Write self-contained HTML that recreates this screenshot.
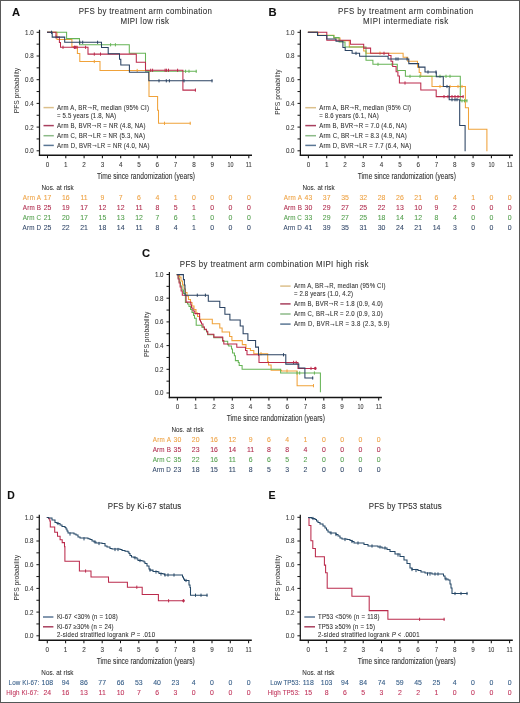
<!DOCTYPE html>
<html><head><meta charset="utf-8"><title>PFS figure</title>
<style>
html,body{margin:0;padding:0;background:#fff;}
body{width:520px;height:703px;overflow:hidden;font-family:"Liberation Sans", sans-serif;}
svg{display:block;will-change:transform;}
text{font-family:"Liberation Sans", sans-serif;}
</style></head><body>
<svg width="520" height="703" viewBox="0 0 520 703" font-family='"Liberation Sans", sans-serif'>
<rect x="0" y="0" width="520" height="703" fill="#ffffff"/>
<text x="12.1" y="16.4" font-size="11.2" fill="#111" stroke="#111" stroke-width="0.08" font-weight="bold">A</text>
<text x="268.6" y="16.4" font-size="11.2" fill="#111" stroke="#111" stroke-width="0.08" font-weight="bold">B</text>
<text x="141.9" y="256.6" font-size="11.2" fill="#111" stroke="#111" stroke-width="0.08" font-weight="bold">C</text>
<text x="7.2" y="498.8" font-size="10.4" fill="#111" stroke="#111" stroke-width="0.08" font-weight="bold">D</text>
<text x="268.6" y="498.6" font-size="10.6" fill="#111" stroke="#111" stroke-width="0.08" font-weight="bold">E</text>
<text transform="translate(78.7 13.8) scale(0.9 1)" font-size="8.8" fill="#303030" stroke="#303030" stroke-width="0.08" textLength="148.11" lengthAdjust="spacing">PFS by treatment arm combination</text>
<text transform="translate(120.4 24) scale(0.9 1)" font-size="8.8" fill="#303030" stroke="#303030" stroke-width="0.08" textLength="53.89" lengthAdjust="spacing">MIPI low risk</text>
<text transform="translate(338 13.8) scale(0.9 1)" font-size="8.8" fill="#303030" stroke="#303030" stroke-width="0.08" textLength="150.22" lengthAdjust="spacing">PFS by treatment arm combination</text>
<text transform="translate(363.1 24) scale(0.9 1)" font-size="8.8" fill="#303030" stroke="#303030" stroke-width="0.08" textLength="94.56" lengthAdjust="spacing">MIPI intermediate risk</text>
<text transform="translate(179.8 266.7) scale(0.9 1)" font-size="8.8" fill="#303030" stroke="#303030" stroke-width="0.08" textLength="209.67" lengthAdjust="spacing">PFS by treatment arm combination MIPI high risk</text>
<text transform="translate(107.8 509.4) scale(0.9 1)" font-size="8.8" fill="#303030" stroke="#303030" stroke-width="0.08" textLength="81.67" lengthAdjust="spacing">PFS by Ki-67 status</text>
<text transform="translate(368.7 509.4) scale(0.9 1)" font-size="8.8" fill="#303030" stroke="#303030" stroke-width="0.08" textLength="81.11" lengthAdjust="spacing">PFS by TP53 status</text>
<line x1="39.5" y1="29.8" x2="39.5" y2="156" stroke="#151515" stroke-width="1.25"/>
<line x1="38.9" y1="155.3" x2="252" y2="155.3" stroke="#151515" stroke-width="1.4"/>
<line x1="36.6" y1="150.8" x2="39.5" y2="150.8" stroke="#151515" stroke-width="1"/>
<text transform="translate(33.6 153.25) scale(0.9 1)" font-size="6.9" fill="#3a3a3a" stroke="#3a3a3a" stroke-width="0.08" text-anchor="end" textLength="9.56" lengthAdjust="spacing">0.0</text>
<line x1="36.6" y1="138.95" x2="39.5" y2="138.95" stroke="#151515" stroke-width="1"/>
<line x1="36.6" y1="127.1" x2="39.5" y2="127.1" stroke="#151515" stroke-width="1"/>
<text transform="translate(33.6 129.55) scale(0.9 1)" font-size="6.9" fill="#3a3a3a" stroke="#3a3a3a" stroke-width="0.08" text-anchor="end" textLength="9.56" lengthAdjust="spacing">0.2</text>
<line x1="36.6" y1="115.25" x2="39.5" y2="115.25" stroke="#151515" stroke-width="1"/>
<line x1="36.6" y1="103.4" x2="39.5" y2="103.4" stroke="#151515" stroke-width="1"/>
<text transform="translate(33.6 105.85) scale(0.9 1)" font-size="6.9" fill="#3a3a3a" stroke="#3a3a3a" stroke-width="0.08" text-anchor="end" textLength="9.56" lengthAdjust="spacing">0.4</text>
<line x1="36.6" y1="91.55" x2="39.5" y2="91.55" stroke="#151515" stroke-width="1"/>
<line x1="36.6" y1="79.7" x2="39.5" y2="79.7" stroke="#151515" stroke-width="1"/>
<text transform="translate(33.6 82.15) scale(0.9 1)" font-size="6.9" fill="#3a3a3a" stroke="#3a3a3a" stroke-width="0.08" text-anchor="end" textLength="9.56" lengthAdjust="spacing">0.6</text>
<line x1="36.6" y1="67.85" x2="39.5" y2="67.85" stroke="#151515" stroke-width="1"/>
<line x1="36.6" y1="56" x2="39.5" y2="56" stroke="#151515" stroke-width="1"/>
<text transform="translate(33.6 58.45) scale(0.9 1)" font-size="6.9" fill="#3a3a3a" stroke="#3a3a3a" stroke-width="0.08" text-anchor="end" textLength="9.56" lengthAdjust="spacing">0.8</text>
<line x1="36.6" y1="44.15" x2="39.5" y2="44.15" stroke="#151515" stroke-width="1"/>
<line x1="36.6" y1="32.3" x2="39.5" y2="32.3" stroke="#151515" stroke-width="1"/>
<text transform="translate(33.6 34.75) scale(0.9 1)" font-size="6.9" fill="#3a3a3a" stroke="#3a3a3a" stroke-width="0.08" text-anchor="end" textLength="9.56" lengthAdjust="spacing">1.0</text>
<line x1="47.5" y1="155.3" x2="47.5" y2="158.2" stroke="#151515" stroke-width="1.05"/>
<text x="47.5" y="166.8" font-size="6.3" fill="#3a3a3a" stroke="#3a3a3a" stroke-width="0.08" text-anchor="middle">0</text>
<line x1="65.8" y1="155.3" x2="65.8" y2="158.2" stroke="#151515" stroke-width="1.05"/>
<text x="65.8" y="166.8" font-size="6.3" fill="#3a3a3a" stroke="#3a3a3a" stroke-width="0.08" text-anchor="middle">1</text>
<line x1="84.1" y1="155.3" x2="84.1" y2="158.2" stroke="#151515" stroke-width="1.05"/>
<text x="84.1" y="166.8" font-size="6.3" fill="#3a3a3a" stroke="#3a3a3a" stroke-width="0.08" text-anchor="middle">2</text>
<line x1="102.4" y1="155.3" x2="102.4" y2="158.2" stroke="#151515" stroke-width="1.05"/>
<text x="102.4" y="166.8" font-size="6.3" fill="#3a3a3a" stroke="#3a3a3a" stroke-width="0.08" text-anchor="middle">3</text>
<line x1="120.7" y1="155.3" x2="120.7" y2="158.2" stroke="#151515" stroke-width="1.05"/>
<text x="120.7" y="166.8" font-size="6.3" fill="#3a3a3a" stroke="#3a3a3a" stroke-width="0.08" text-anchor="middle">4</text>
<line x1="139" y1="155.3" x2="139" y2="158.2" stroke="#151515" stroke-width="1.05"/>
<text x="139" y="166.8" font-size="6.3" fill="#3a3a3a" stroke="#3a3a3a" stroke-width="0.08" text-anchor="middle">5</text>
<line x1="157.3" y1="155.3" x2="157.3" y2="158.2" stroke="#151515" stroke-width="1.05"/>
<text x="157.3" y="166.8" font-size="6.3" fill="#3a3a3a" stroke="#3a3a3a" stroke-width="0.08" text-anchor="middle">6</text>
<line x1="175.6" y1="155.3" x2="175.6" y2="158.2" stroke="#151515" stroke-width="1.05"/>
<text x="175.6" y="166.8" font-size="6.3" fill="#3a3a3a" stroke="#3a3a3a" stroke-width="0.08" text-anchor="middle">7</text>
<line x1="193.9" y1="155.3" x2="193.9" y2="158.2" stroke="#151515" stroke-width="1.05"/>
<text x="193.9" y="166.8" font-size="6.3" fill="#3a3a3a" stroke="#3a3a3a" stroke-width="0.08" text-anchor="middle">8</text>
<line x1="212.2" y1="155.3" x2="212.2" y2="158.2" stroke="#151515" stroke-width="1.05"/>
<text x="212.2" y="166.8" font-size="6.3" fill="#3a3a3a" stroke="#3a3a3a" stroke-width="0.08" text-anchor="middle">9</text>
<line x1="230.5" y1="155.3" x2="230.5" y2="158.2" stroke="#151515" stroke-width="1.05"/>
<text x="230.5" y="166.8" font-size="6.3" fill="#3a3a3a" stroke="#3a3a3a" stroke-width="0.08" text-anchor="middle" textLength="6" lengthAdjust="spacingAndGlyphs">10</text>
<line x1="248.8" y1="155.3" x2="248.8" y2="158.2" stroke="#151515" stroke-width="1.05"/>
<text x="248.8" y="166.8" font-size="6.3" fill="#3a3a3a" stroke="#3a3a3a" stroke-width="0.08" text-anchor="middle" textLength="6" lengthAdjust="spacingAndGlyphs">11</text>
<text transform="translate(19.2 113.3) rotate(-90)" font-size="8.1" fill="#303030" textLength="45.4" lengthAdjust="spacingAndGlyphs" x="0" y="0">PFS probability</text>
<text x="96.9" y="178.8" font-size="9" fill="#303030" stroke="#303030" stroke-width="0.08" textLength="98.1" lengthAdjust="spacingAndGlyphs">Time since randomization (years)</text>
<line x1="300.4" y1="29.8" x2="300.4" y2="156" stroke="#151515" stroke-width="1.25"/>
<line x1="299.8" y1="155.3" x2="512.9" y2="155.3" stroke="#151515" stroke-width="1.4"/>
<line x1="297.5" y1="150.8" x2="300.4" y2="150.8" stroke="#151515" stroke-width="1"/>
<text transform="translate(294.5 153.25) scale(0.9 1)" font-size="6.9" fill="#3a3a3a" stroke="#3a3a3a" stroke-width="0.08" text-anchor="end" textLength="9.56" lengthAdjust="spacing">0.0</text>
<line x1="297.5" y1="138.95" x2="300.4" y2="138.95" stroke="#151515" stroke-width="1"/>
<line x1="297.5" y1="127.1" x2="300.4" y2="127.1" stroke="#151515" stroke-width="1"/>
<text transform="translate(294.5 129.55) scale(0.9 1)" font-size="6.9" fill="#3a3a3a" stroke="#3a3a3a" stroke-width="0.08" text-anchor="end" textLength="9.56" lengthAdjust="spacing">0.2</text>
<line x1="297.5" y1="115.25" x2="300.4" y2="115.25" stroke="#151515" stroke-width="1"/>
<line x1="297.5" y1="103.4" x2="300.4" y2="103.4" stroke="#151515" stroke-width="1"/>
<text transform="translate(294.5 105.85) scale(0.9 1)" font-size="6.9" fill="#3a3a3a" stroke="#3a3a3a" stroke-width="0.08" text-anchor="end" textLength="9.56" lengthAdjust="spacing">0.4</text>
<line x1="297.5" y1="91.55" x2="300.4" y2="91.55" stroke="#151515" stroke-width="1"/>
<line x1="297.5" y1="79.7" x2="300.4" y2="79.7" stroke="#151515" stroke-width="1"/>
<text transform="translate(294.5 82.15) scale(0.9 1)" font-size="6.9" fill="#3a3a3a" stroke="#3a3a3a" stroke-width="0.08" text-anchor="end" textLength="9.56" lengthAdjust="spacing">0.6</text>
<line x1="297.5" y1="67.85" x2="300.4" y2="67.85" stroke="#151515" stroke-width="1"/>
<line x1="297.5" y1="56" x2="300.4" y2="56" stroke="#151515" stroke-width="1"/>
<text transform="translate(294.5 58.45) scale(0.9 1)" font-size="6.9" fill="#3a3a3a" stroke="#3a3a3a" stroke-width="0.08" text-anchor="end" textLength="9.56" lengthAdjust="spacing">0.8</text>
<line x1="297.5" y1="44.15" x2="300.4" y2="44.15" stroke="#151515" stroke-width="1"/>
<line x1="297.5" y1="32.3" x2="300.4" y2="32.3" stroke="#151515" stroke-width="1"/>
<text transform="translate(294.5 34.75) scale(0.9 1)" font-size="6.9" fill="#3a3a3a" stroke="#3a3a3a" stroke-width="0.08" text-anchor="end" textLength="9.56" lengthAdjust="spacing">1.0</text>
<line x1="308.4" y1="155.3" x2="308.4" y2="158.2" stroke="#151515" stroke-width="1.05"/>
<text x="308.4" y="166.8" font-size="6.3" fill="#3a3a3a" stroke="#3a3a3a" stroke-width="0.08" text-anchor="middle">0</text>
<line x1="326.7" y1="155.3" x2="326.7" y2="158.2" stroke="#151515" stroke-width="1.05"/>
<text x="326.7" y="166.8" font-size="6.3" fill="#3a3a3a" stroke="#3a3a3a" stroke-width="0.08" text-anchor="middle">1</text>
<line x1="345" y1="155.3" x2="345" y2="158.2" stroke="#151515" stroke-width="1.05"/>
<text x="345" y="166.8" font-size="6.3" fill="#3a3a3a" stroke="#3a3a3a" stroke-width="0.08" text-anchor="middle">2</text>
<line x1="363.3" y1="155.3" x2="363.3" y2="158.2" stroke="#151515" stroke-width="1.05"/>
<text x="363.3" y="166.8" font-size="6.3" fill="#3a3a3a" stroke="#3a3a3a" stroke-width="0.08" text-anchor="middle">3</text>
<line x1="381.6" y1="155.3" x2="381.6" y2="158.2" stroke="#151515" stroke-width="1.05"/>
<text x="381.6" y="166.8" font-size="6.3" fill="#3a3a3a" stroke="#3a3a3a" stroke-width="0.08" text-anchor="middle">4</text>
<line x1="399.9" y1="155.3" x2="399.9" y2="158.2" stroke="#151515" stroke-width="1.05"/>
<text x="399.9" y="166.8" font-size="6.3" fill="#3a3a3a" stroke="#3a3a3a" stroke-width="0.08" text-anchor="middle">5</text>
<line x1="418.2" y1="155.3" x2="418.2" y2="158.2" stroke="#151515" stroke-width="1.05"/>
<text x="418.2" y="166.8" font-size="6.3" fill="#3a3a3a" stroke="#3a3a3a" stroke-width="0.08" text-anchor="middle">6</text>
<line x1="436.5" y1="155.3" x2="436.5" y2="158.2" stroke="#151515" stroke-width="1.05"/>
<text x="436.5" y="166.8" font-size="6.3" fill="#3a3a3a" stroke="#3a3a3a" stroke-width="0.08" text-anchor="middle">7</text>
<line x1="454.8" y1="155.3" x2="454.8" y2="158.2" stroke="#151515" stroke-width="1.05"/>
<text x="454.8" y="166.8" font-size="6.3" fill="#3a3a3a" stroke="#3a3a3a" stroke-width="0.08" text-anchor="middle">8</text>
<line x1="473.1" y1="155.3" x2="473.1" y2="158.2" stroke="#151515" stroke-width="1.05"/>
<text x="473.1" y="166.8" font-size="6.3" fill="#3a3a3a" stroke="#3a3a3a" stroke-width="0.08" text-anchor="middle">9</text>
<line x1="491.4" y1="155.3" x2="491.4" y2="158.2" stroke="#151515" stroke-width="1.05"/>
<text x="491.4" y="166.8" font-size="6.3" fill="#3a3a3a" stroke="#3a3a3a" stroke-width="0.08" text-anchor="middle" textLength="6" lengthAdjust="spacingAndGlyphs">10</text>
<line x1="509.7" y1="155.3" x2="509.7" y2="158.2" stroke="#151515" stroke-width="1.05"/>
<text x="509.7" y="166.8" font-size="6.3" fill="#3a3a3a" stroke="#3a3a3a" stroke-width="0.08" text-anchor="middle" textLength="6" lengthAdjust="spacingAndGlyphs">11</text>
<text transform="translate(280.1 114.7) rotate(-90)" font-size="8.1" fill="#303030" textLength="45.4" lengthAdjust="spacingAndGlyphs" x="0" y="0">PFS probability</text>
<text x="357.8" y="178.8" font-size="9" fill="#303030" stroke="#303030" stroke-width="0.08" textLength="98.1" lengthAdjust="spacingAndGlyphs">Time since randomization (years)</text>
<line x1="169.4" y1="272" x2="169.4" y2="398.2" stroke="#151515" stroke-width="1.25"/>
<line x1="168.8" y1="397.5" x2="381.9" y2="397.5" stroke="#151515" stroke-width="1.4"/>
<line x1="166.5" y1="393" x2="169.4" y2="393" stroke="#151515" stroke-width="1"/>
<text transform="translate(163.5 395.45) scale(0.9 1)" font-size="6.9" fill="#3a3a3a" stroke="#3a3a3a" stroke-width="0.08" text-anchor="end" textLength="9.56" lengthAdjust="spacing">0.0</text>
<line x1="166.5" y1="381.15" x2="169.4" y2="381.15" stroke="#151515" stroke-width="1"/>
<line x1="166.5" y1="369.3" x2="169.4" y2="369.3" stroke="#151515" stroke-width="1"/>
<text transform="translate(163.5 371.75) scale(0.9 1)" font-size="6.9" fill="#3a3a3a" stroke="#3a3a3a" stroke-width="0.08" text-anchor="end" textLength="9.56" lengthAdjust="spacing">0.2</text>
<line x1="166.5" y1="357.45" x2="169.4" y2="357.45" stroke="#151515" stroke-width="1"/>
<line x1="166.5" y1="345.6" x2="169.4" y2="345.6" stroke="#151515" stroke-width="1"/>
<text transform="translate(163.5 348.05) scale(0.9 1)" font-size="6.9" fill="#3a3a3a" stroke="#3a3a3a" stroke-width="0.08" text-anchor="end" textLength="9.56" lengthAdjust="spacing">0.4</text>
<line x1="166.5" y1="333.75" x2="169.4" y2="333.75" stroke="#151515" stroke-width="1"/>
<line x1="166.5" y1="321.9" x2="169.4" y2="321.9" stroke="#151515" stroke-width="1"/>
<text transform="translate(163.5 324.35) scale(0.9 1)" font-size="6.9" fill="#3a3a3a" stroke="#3a3a3a" stroke-width="0.08" text-anchor="end" textLength="9.56" lengthAdjust="spacing">0.6</text>
<line x1="166.5" y1="310.05" x2="169.4" y2="310.05" stroke="#151515" stroke-width="1"/>
<line x1="166.5" y1="298.2" x2="169.4" y2="298.2" stroke="#151515" stroke-width="1"/>
<text transform="translate(163.5 300.65) scale(0.9 1)" font-size="6.9" fill="#3a3a3a" stroke="#3a3a3a" stroke-width="0.08" text-anchor="end" textLength="9.56" lengthAdjust="spacing">0.8</text>
<line x1="166.5" y1="286.35" x2="169.4" y2="286.35" stroke="#151515" stroke-width="1"/>
<line x1="166.5" y1="274.5" x2="169.4" y2="274.5" stroke="#151515" stroke-width="1"/>
<text transform="translate(163.5 276.95) scale(0.9 1)" font-size="6.9" fill="#3a3a3a" stroke="#3a3a3a" stroke-width="0.08" text-anchor="end" textLength="9.56" lengthAdjust="spacing">1.0</text>
<line x1="177.4" y1="397.5" x2="177.4" y2="400.4" stroke="#151515" stroke-width="1.05"/>
<text x="177.4" y="409" font-size="6.3" fill="#3a3a3a" stroke="#3a3a3a" stroke-width="0.08" text-anchor="middle">0</text>
<line x1="195.7" y1="397.5" x2="195.7" y2="400.4" stroke="#151515" stroke-width="1.05"/>
<text x="195.7" y="409" font-size="6.3" fill="#3a3a3a" stroke="#3a3a3a" stroke-width="0.08" text-anchor="middle">1</text>
<line x1="214" y1="397.5" x2="214" y2="400.4" stroke="#151515" stroke-width="1.05"/>
<text x="214" y="409" font-size="6.3" fill="#3a3a3a" stroke="#3a3a3a" stroke-width="0.08" text-anchor="middle">2</text>
<line x1="232.3" y1="397.5" x2="232.3" y2="400.4" stroke="#151515" stroke-width="1.05"/>
<text x="232.3" y="409" font-size="6.3" fill="#3a3a3a" stroke="#3a3a3a" stroke-width="0.08" text-anchor="middle">3</text>
<line x1="250.6" y1="397.5" x2="250.6" y2="400.4" stroke="#151515" stroke-width="1.05"/>
<text x="250.6" y="409" font-size="6.3" fill="#3a3a3a" stroke="#3a3a3a" stroke-width="0.08" text-anchor="middle">4</text>
<line x1="268.9" y1="397.5" x2="268.9" y2="400.4" stroke="#151515" stroke-width="1.05"/>
<text x="268.9" y="409" font-size="6.3" fill="#3a3a3a" stroke="#3a3a3a" stroke-width="0.08" text-anchor="middle">5</text>
<line x1="287.2" y1="397.5" x2="287.2" y2="400.4" stroke="#151515" stroke-width="1.05"/>
<text x="287.2" y="409" font-size="6.3" fill="#3a3a3a" stroke="#3a3a3a" stroke-width="0.08" text-anchor="middle">6</text>
<line x1="305.5" y1="397.5" x2="305.5" y2="400.4" stroke="#151515" stroke-width="1.05"/>
<text x="305.5" y="409" font-size="6.3" fill="#3a3a3a" stroke="#3a3a3a" stroke-width="0.08" text-anchor="middle">7</text>
<line x1="323.8" y1="397.5" x2="323.8" y2="400.4" stroke="#151515" stroke-width="1.05"/>
<text x="323.8" y="409" font-size="6.3" fill="#3a3a3a" stroke="#3a3a3a" stroke-width="0.08" text-anchor="middle">8</text>
<line x1="342.1" y1="397.5" x2="342.1" y2="400.4" stroke="#151515" stroke-width="1.05"/>
<text x="342.1" y="409" font-size="6.3" fill="#3a3a3a" stroke="#3a3a3a" stroke-width="0.08" text-anchor="middle">9</text>
<line x1="360.4" y1="397.5" x2="360.4" y2="400.4" stroke="#151515" stroke-width="1.05"/>
<text x="360.4" y="409" font-size="6.3" fill="#3a3a3a" stroke="#3a3a3a" stroke-width="0.08" text-anchor="middle" textLength="6" lengthAdjust="spacingAndGlyphs">10</text>
<line x1="378.7" y1="397.5" x2="378.7" y2="400.4" stroke="#151515" stroke-width="1.05"/>
<text x="378.7" y="409" font-size="6.3" fill="#3a3a3a" stroke="#3a3a3a" stroke-width="0.08" text-anchor="middle" textLength="6" lengthAdjust="spacingAndGlyphs">11</text>
<text transform="translate(148.7 357.1) rotate(-90)" font-size="8.1" fill="#303030" textLength="45.4" lengthAdjust="spacingAndGlyphs" x="0" y="0">PFS probability</text>
<text x="226.8" y="421" font-size="9" fill="#303030" stroke="#303030" stroke-width="0.08" textLength="98.1" lengthAdjust="spacingAndGlyphs">Time since randomization (years)</text>
<line x1="39.3" y1="514.8" x2="39.3" y2="641" stroke="#151515" stroke-width="1.25"/>
<line x1="38.7" y1="640.3" x2="251.8" y2="640.3" stroke="#151515" stroke-width="1.4"/>
<line x1="36.4" y1="635.8" x2="39.3" y2="635.8" stroke="#151515" stroke-width="1"/>
<text transform="translate(33.4 638.25) scale(0.9 1)" font-size="6.9" fill="#3a3a3a" stroke="#3a3a3a" stroke-width="0.08" text-anchor="end" textLength="9.56" lengthAdjust="spacing">0.0</text>
<line x1="36.4" y1="623.95" x2="39.3" y2="623.95" stroke="#151515" stroke-width="1"/>
<line x1="36.4" y1="612.1" x2="39.3" y2="612.1" stroke="#151515" stroke-width="1"/>
<text transform="translate(33.4 614.55) scale(0.9 1)" font-size="6.9" fill="#3a3a3a" stroke="#3a3a3a" stroke-width="0.08" text-anchor="end" textLength="9.56" lengthAdjust="spacing">0.2</text>
<line x1="36.4" y1="600.25" x2="39.3" y2="600.25" stroke="#151515" stroke-width="1"/>
<line x1="36.4" y1="588.4" x2="39.3" y2="588.4" stroke="#151515" stroke-width="1"/>
<text transform="translate(33.4 590.85) scale(0.9 1)" font-size="6.9" fill="#3a3a3a" stroke="#3a3a3a" stroke-width="0.08" text-anchor="end" textLength="9.56" lengthAdjust="spacing">0.4</text>
<line x1="36.4" y1="576.55" x2="39.3" y2="576.55" stroke="#151515" stroke-width="1"/>
<line x1="36.4" y1="564.7" x2="39.3" y2="564.7" stroke="#151515" stroke-width="1"/>
<text transform="translate(33.4 567.15) scale(0.9 1)" font-size="6.9" fill="#3a3a3a" stroke="#3a3a3a" stroke-width="0.08" text-anchor="end" textLength="9.56" lengthAdjust="spacing">0.6</text>
<line x1="36.4" y1="552.85" x2="39.3" y2="552.85" stroke="#151515" stroke-width="1"/>
<line x1="36.4" y1="541" x2="39.3" y2="541" stroke="#151515" stroke-width="1"/>
<text transform="translate(33.4 543.45) scale(0.9 1)" font-size="6.9" fill="#3a3a3a" stroke="#3a3a3a" stroke-width="0.08" text-anchor="end" textLength="9.56" lengthAdjust="spacing">0.8</text>
<line x1="36.4" y1="529.15" x2="39.3" y2="529.15" stroke="#151515" stroke-width="1"/>
<line x1="36.4" y1="517.3" x2="39.3" y2="517.3" stroke="#151515" stroke-width="1"/>
<text transform="translate(33.4 519.75) scale(0.9 1)" font-size="6.9" fill="#3a3a3a" stroke="#3a3a3a" stroke-width="0.08" text-anchor="end" textLength="9.56" lengthAdjust="spacing">1.0</text>
<line x1="47.3" y1="640.3" x2="47.3" y2="643.2" stroke="#151515" stroke-width="1.05"/>
<text x="47.3" y="651.8" font-size="6.3" fill="#3a3a3a" stroke="#3a3a3a" stroke-width="0.08" text-anchor="middle">0</text>
<line x1="65.6" y1="640.3" x2="65.6" y2="643.2" stroke="#151515" stroke-width="1.05"/>
<text x="65.6" y="651.8" font-size="6.3" fill="#3a3a3a" stroke="#3a3a3a" stroke-width="0.08" text-anchor="middle">1</text>
<line x1="83.9" y1="640.3" x2="83.9" y2="643.2" stroke="#151515" stroke-width="1.05"/>
<text x="83.9" y="651.8" font-size="6.3" fill="#3a3a3a" stroke="#3a3a3a" stroke-width="0.08" text-anchor="middle">2</text>
<line x1="102.2" y1="640.3" x2="102.2" y2="643.2" stroke="#151515" stroke-width="1.05"/>
<text x="102.2" y="651.8" font-size="6.3" fill="#3a3a3a" stroke="#3a3a3a" stroke-width="0.08" text-anchor="middle">3</text>
<line x1="120.5" y1="640.3" x2="120.5" y2="643.2" stroke="#151515" stroke-width="1.05"/>
<text x="120.5" y="651.8" font-size="6.3" fill="#3a3a3a" stroke="#3a3a3a" stroke-width="0.08" text-anchor="middle">4</text>
<line x1="138.8" y1="640.3" x2="138.8" y2="643.2" stroke="#151515" stroke-width="1.05"/>
<text x="138.8" y="651.8" font-size="6.3" fill="#3a3a3a" stroke="#3a3a3a" stroke-width="0.08" text-anchor="middle">5</text>
<line x1="157.1" y1="640.3" x2="157.1" y2="643.2" stroke="#151515" stroke-width="1.05"/>
<text x="157.1" y="651.8" font-size="6.3" fill="#3a3a3a" stroke="#3a3a3a" stroke-width="0.08" text-anchor="middle">6</text>
<line x1="175.4" y1="640.3" x2="175.4" y2="643.2" stroke="#151515" stroke-width="1.05"/>
<text x="175.4" y="651.8" font-size="6.3" fill="#3a3a3a" stroke="#3a3a3a" stroke-width="0.08" text-anchor="middle">7</text>
<line x1="193.7" y1="640.3" x2="193.7" y2="643.2" stroke="#151515" stroke-width="1.05"/>
<text x="193.7" y="651.8" font-size="6.3" fill="#3a3a3a" stroke="#3a3a3a" stroke-width="0.08" text-anchor="middle">8</text>
<line x1="212" y1="640.3" x2="212" y2="643.2" stroke="#151515" stroke-width="1.05"/>
<text x="212" y="651.8" font-size="6.3" fill="#3a3a3a" stroke="#3a3a3a" stroke-width="0.08" text-anchor="middle">9</text>
<line x1="230.3" y1="640.3" x2="230.3" y2="643.2" stroke="#151515" stroke-width="1.05"/>
<text x="230.3" y="651.8" font-size="6.3" fill="#3a3a3a" stroke="#3a3a3a" stroke-width="0.08" text-anchor="middle" textLength="6" lengthAdjust="spacingAndGlyphs">10</text>
<line x1="248.6" y1="640.3" x2="248.6" y2="643.2" stroke="#151515" stroke-width="1.05"/>
<text x="248.6" y="651.8" font-size="6.3" fill="#3a3a3a" stroke="#3a3a3a" stroke-width="0.08" text-anchor="middle" textLength="6" lengthAdjust="spacingAndGlyphs">11</text>
<text transform="translate(19 600.4) rotate(-90)" font-size="8.1" fill="#303030" textLength="45.4" lengthAdjust="spacingAndGlyphs" x="0" y="0">PFS probability</text>
<text x="96.7" y="663.8" font-size="9" fill="#303030" stroke="#303030" stroke-width="0.08" textLength="98.1" lengthAdjust="spacingAndGlyphs">Time since randomization (years)</text>
<line x1="300.3" y1="514.8" x2="300.3" y2="641" stroke="#151515" stroke-width="1.25"/>
<line x1="299.7" y1="640.3" x2="512.8" y2="640.3" stroke="#151515" stroke-width="1.4"/>
<line x1="297.4" y1="635.8" x2="300.3" y2="635.8" stroke="#151515" stroke-width="1"/>
<text transform="translate(294.4 638.25) scale(0.9 1)" font-size="6.9" fill="#3a3a3a" stroke="#3a3a3a" stroke-width="0.08" text-anchor="end" textLength="9.56" lengthAdjust="spacing">0.0</text>
<line x1="297.4" y1="623.95" x2="300.3" y2="623.95" stroke="#151515" stroke-width="1"/>
<line x1="297.4" y1="612.1" x2="300.3" y2="612.1" stroke="#151515" stroke-width="1"/>
<text transform="translate(294.4 614.55) scale(0.9 1)" font-size="6.9" fill="#3a3a3a" stroke="#3a3a3a" stroke-width="0.08" text-anchor="end" textLength="9.56" lengthAdjust="spacing">0.2</text>
<line x1="297.4" y1="600.25" x2="300.3" y2="600.25" stroke="#151515" stroke-width="1"/>
<line x1="297.4" y1="588.4" x2="300.3" y2="588.4" stroke="#151515" stroke-width="1"/>
<text transform="translate(294.4 590.85) scale(0.9 1)" font-size="6.9" fill="#3a3a3a" stroke="#3a3a3a" stroke-width="0.08" text-anchor="end" textLength="9.56" lengthAdjust="spacing">0.4</text>
<line x1="297.4" y1="576.55" x2="300.3" y2="576.55" stroke="#151515" stroke-width="1"/>
<line x1="297.4" y1="564.7" x2="300.3" y2="564.7" stroke="#151515" stroke-width="1"/>
<text transform="translate(294.4 567.15) scale(0.9 1)" font-size="6.9" fill="#3a3a3a" stroke="#3a3a3a" stroke-width="0.08" text-anchor="end" textLength="9.56" lengthAdjust="spacing">0.6</text>
<line x1="297.4" y1="552.85" x2="300.3" y2="552.85" stroke="#151515" stroke-width="1"/>
<line x1="297.4" y1="541" x2="300.3" y2="541" stroke="#151515" stroke-width="1"/>
<text transform="translate(294.4 543.45) scale(0.9 1)" font-size="6.9" fill="#3a3a3a" stroke="#3a3a3a" stroke-width="0.08" text-anchor="end" textLength="9.56" lengthAdjust="spacing">0.8</text>
<line x1="297.4" y1="529.15" x2="300.3" y2="529.15" stroke="#151515" stroke-width="1"/>
<line x1="297.4" y1="517.3" x2="300.3" y2="517.3" stroke="#151515" stroke-width="1"/>
<text transform="translate(294.4 519.75) scale(0.9 1)" font-size="6.9" fill="#3a3a3a" stroke="#3a3a3a" stroke-width="0.08" text-anchor="end" textLength="9.56" lengthAdjust="spacing">1.0</text>
<line x1="308.3" y1="640.3" x2="308.3" y2="643.2" stroke="#151515" stroke-width="1.05"/>
<text x="308.3" y="651.8" font-size="6.3" fill="#3a3a3a" stroke="#3a3a3a" stroke-width="0.08" text-anchor="middle">0</text>
<line x1="326.6" y1="640.3" x2="326.6" y2="643.2" stroke="#151515" stroke-width="1.05"/>
<text x="326.6" y="651.8" font-size="6.3" fill="#3a3a3a" stroke="#3a3a3a" stroke-width="0.08" text-anchor="middle">1</text>
<line x1="344.9" y1="640.3" x2="344.9" y2="643.2" stroke="#151515" stroke-width="1.05"/>
<text x="344.9" y="651.8" font-size="6.3" fill="#3a3a3a" stroke="#3a3a3a" stroke-width="0.08" text-anchor="middle">2</text>
<line x1="363.2" y1="640.3" x2="363.2" y2="643.2" stroke="#151515" stroke-width="1.05"/>
<text x="363.2" y="651.8" font-size="6.3" fill="#3a3a3a" stroke="#3a3a3a" stroke-width="0.08" text-anchor="middle">3</text>
<line x1="381.5" y1="640.3" x2="381.5" y2="643.2" stroke="#151515" stroke-width="1.05"/>
<text x="381.5" y="651.8" font-size="6.3" fill="#3a3a3a" stroke="#3a3a3a" stroke-width="0.08" text-anchor="middle">4</text>
<line x1="399.8" y1="640.3" x2="399.8" y2="643.2" stroke="#151515" stroke-width="1.05"/>
<text x="399.8" y="651.8" font-size="6.3" fill="#3a3a3a" stroke="#3a3a3a" stroke-width="0.08" text-anchor="middle">5</text>
<line x1="418.1" y1="640.3" x2="418.1" y2="643.2" stroke="#151515" stroke-width="1.05"/>
<text x="418.1" y="651.8" font-size="6.3" fill="#3a3a3a" stroke="#3a3a3a" stroke-width="0.08" text-anchor="middle">6</text>
<line x1="436.4" y1="640.3" x2="436.4" y2="643.2" stroke="#151515" stroke-width="1.05"/>
<text x="436.4" y="651.8" font-size="6.3" fill="#3a3a3a" stroke="#3a3a3a" stroke-width="0.08" text-anchor="middle">7</text>
<line x1="454.7" y1="640.3" x2="454.7" y2="643.2" stroke="#151515" stroke-width="1.05"/>
<text x="454.7" y="651.8" font-size="6.3" fill="#3a3a3a" stroke="#3a3a3a" stroke-width="0.08" text-anchor="middle">8</text>
<line x1="473" y1="640.3" x2="473" y2="643.2" stroke="#151515" stroke-width="1.05"/>
<text x="473" y="651.8" font-size="6.3" fill="#3a3a3a" stroke="#3a3a3a" stroke-width="0.08" text-anchor="middle">9</text>
<line x1="491.3" y1="640.3" x2="491.3" y2="643.2" stroke="#151515" stroke-width="1.05"/>
<text x="491.3" y="651.8" font-size="6.3" fill="#3a3a3a" stroke="#3a3a3a" stroke-width="0.08" text-anchor="middle" textLength="6" lengthAdjust="spacingAndGlyphs">10</text>
<line x1="509.6" y1="640.3" x2="509.6" y2="643.2" stroke="#151515" stroke-width="1.05"/>
<text x="509.6" y="651.8" font-size="6.3" fill="#3a3a3a" stroke="#3a3a3a" stroke-width="0.08" text-anchor="middle" textLength="6" lengthAdjust="spacingAndGlyphs">11</text>
<text transform="translate(280 600.4) rotate(-90)" font-size="8.1" fill="#303030" textLength="45.4" lengthAdjust="spacingAndGlyphs" x="0" y="0">PFS probability</text>
<text x="357.7" y="663.8" font-size="9" fill="#303030" stroke="#303030" stroke-width="0.08" textLength="98.1" lengthAdjust="spacingAndGlyphs">Time since randomization (years)</text>
<text transform="translate(41.5 189.6) scale(0.9 1)" font-size="7" fill="#303030" stroke="#303030" stroke-width="0.08" textLength="35.78" lengthAdjust="spacing">Nos. at risk</text>
<text transform="translate(41 199.9) scale(0.9 1)" font-size="7" fill="#eea243" stroke="#eea243" stroke-width="0.08" text-anchor="end" textLength="20.22" lengthAdjust="spacing">Arm A</text>
<text x="47.5" y="199.9" font-size="6.9" fill="#eea243" stroke="#eea243" stroke-width="0.08" text-anchor="middle">17</text>
<text x="65.8" y="199.9" font-size="6.9" fill="#eea243" stroke="#eea243" stroke-width="0.08" text-anchor="middle">16</text>
<text x="84.1" y="199.9" font-size="6.9" fill="#eea243" stroke="#eea243" stroke-width="0.08" text-anchor="middle">11</text>
<text x="102.4" y="199.9" font-size="6.9" fill="#eea243" stroke="#eea243" stroke-width="0.08" text-anchor="middle">9</text>
<text x="120.7" y="199.9" font-size="6.9" fill="#eea243" stroke="#eea243" stroke-width="0.08" text-anchor="middle">7</text>
<text x="139" y="199.9" font-size="6.9" fill="#eea243" stroke="#eea243" stroke-width="0.08" text-anchor="middle">6</text>
<text x="157.3" y="199.9" font-size="6.9" fill="#eea243" stroke="#eea243" stroke-width="0.08" text-anchor="middle">4</text>
<text x="175.6" y="199.9" font-size="6.9" fill="#eea243" stroke="#eea243" stroke-width="0.08" text-anchor="middle">1</text>
<text x="193.9" y="199.9" font-size="6.9" fill="#eea243" stroke="#eea243" stroke-width="0.08" text-anchor="middle">0</text>
<text x="212.2" y="199.9" font-size="6.9" fill="#eea243" stroke="#eea243" stroke-width="0.08" text-anchor="middle">0</text>
<text x="230.5" y="199.9" font-size="6.9" fill="#eea243" stroke="#eea243" stroke-width="0.08" text-anchor="middle">0</text>
<text x="248.8" y="199.9" font-size="6.9" fill="#eea243" stroke="#eea243" stroke-width="0.08" text-anchor="middle">0</text>
<text transform="translate(41 209.88) scale(0.9 1)" font-size="7" fill="#b02c4e" stroke="#b02c4e" stroke-width="0.08" text-anchor="end" textLength="20.22" lengthAdjust="spacing">Arm B</text>
<text x="47.5" y="209.88" font-size="6.9" fill="#b02c4e" stroke="#b02c4e" stroke-width="0.08" text-anchor="middle">25</text>
<text x="65.8" y="209.88" font-size="6.9" fill="#b02c4e" stroke="#b02c4e" stroke-width="0.08" text-anchor="middle">19</text>
<text x="84.1" y="209.88" font-size="6.9" fill="#b02c4e" stroke="#b02c4e" stroke-width="0.08" text-anchor="middle">17</text>
<text x="102.4" y="209.88" font-size="6.9" fill="#b02c4e" stroke="#b02c4e" stroke-width="0.08" text-anchor="middle">12</text>
<text x="120.7" y="209.88" font-size="6.9" fill="#b02c4e" stroke="#b02c4e" stroke-width="0.08" text-anchor="middle">12</text>
<text x="139" y="209.88" font-size="6.9" fill="#b02c4e" stroke="#b02c4e" stroke-width="0.08" text-anchor="middle">11</text>
<text x="157.3" y="209.88" font-size="6.9" fill="#b02c4e" stroke="#b02c4e" stroke-width="0.08" text-anchor="middle">8</text>
<text x="175.6" y="209.88" font-size="6.9" fill="#b02c4e" stroke="#b02c4e" stroke-width="0.08" text-anchor="middle">5</text>
<text x="193.9" y="209.88" font-size="6.9" fill="#b02c4e" stroke="#b02c4e" stroke-width="0.08" text-anchor="middle">1</text>
<text x="212.2" y="209.88" font-size="6.9" fill="#b02c4e" stroke="#b02c4e" stroke-width="0.08" text-anchor="middle">0</text>
<text x="230.5" y="209.88" font-size="6.9" fill="#b02c4e" stroke="#b02c4e" stroke-width="0.08" text-anchor="middle">0</text>
<text x="248.8" y="209.88" font-size="6.9" fill="#b02c4e" stroke="#b02c4e" stroke-width="0.08" text-anchor="middle">0</text>
<text transform="translate(41 219.86) scale(0.9 1)" font-size="7" fill="#55a04f" stroke="#55a04f" stroke-width="0.08" text-anchor="end" textLength="20.22" lengthAdjust="spacing">Arm C</text>
<text x="47.5" y="219.86" font-size="6.9" fill="#55a04f" stroke="#55a04f" stroke-width="0.08" text-anchor="middle">21</text>
<text x="65.8" y="219.86" font-size="6.9" fill="#55a04f" stroke="#55a04f" stroke-width="0.08" text-anchor="middle">20</text>
<text x="84.1" y="219.86" font-size="6.9" fill="#55a04f" stroke="#55a04f" stroke-width="0.08" text-anchor="middle">17</text>
<text x="102.4" y="219.86" font-size="6.9" fill="#55a04f" stroke="#55a04f" stroke-width="0.08" text-anchor="middle">15</text>
<text x="120.7" y="219.86" font-size="6.9" fill="#55a04f" stroke="#55a04f" stroke-width="0.08" text-anchor="middle">13</text>
<text x="139" y="219.86" font-size="6.9" fill="#55a04f" stroke="#55a04f" stroke-width="0.08" text-anchor="middle">12</text>
<text x="157.3" y="219.86" font-size="6.9" fill="#55a04f" stroke="#55a04f" stroke-width="0.08" text-anchor="middle">7</text>
<text x="175.6" y="219.86" font-size="6.9" fill="#55a04f" stroke="#55a04f" stroke-width="0.08" text-anchor="middle">6</text>
<text x="193.9" y="219.86" font-size="6.9" fill="#55a04f" stroke="#55a04f" stroke-width="0.08" text-anchor="middle">1</text>
<text x="212.2" y="219.86" font-size="6.9" fill="#55a04f" stroke="#55a04f" stroke-width="0.08" text-anchor="middle">0</text>
<text x="230.5" y="219.86" font-size="6.9" fill="#55a04f" stroke="#55a04f" stroke-width="0.08" text-anchor="middle">0</text>
<text x="248.8" y="219.86" font-size="6.9" fill="#55a04f" stroke="#55a04f" stroke-width="0.08" text-anchor="middle">0</text>
<text transform="translate(41 229.84) scale(0.9 1)" font-size="7" fill="#34496a" stroke="#34496a" stroke-width="0.08" text-anchor="end" textLength="20.44" lengthAdjust="spacing">Arm D</text>
<text x="47.5" y="229.84" font-size="6.9" fill="#34496a" stroke="#34496a" stroke-width="0.08" text-anchor="middle">25</text>
<text x="65.8" y="229.84" font-size="6.9" fill="#34496a" stroke="#34496a" stroke-width="0.08" text-anchor="middle">22</text>
<text x="84.1" y="229.84" font-size="6.9" fill="#34496a" stroke="#34496a" stroke-width="0.08" text-anchor="middle">21</text>
<text x="102.4" y="229.84" font-size="6.9" fill="#34496a" stroke="#34496a" stroke-width="0.08" text-anchor="middle">18</text>
<text x="120.7" y="229.84" font-size="6.9" fill="#34496a" stroke="#34496a" stroke-width="0.08" text-anchor="middle">14</text>
<text x="139" y="229.84" font-size="6.9" fill="#34496a" stroke="#34496a" stroke-width="0.08" text-anchor="middle">11</text>
<text x="157.3" y="229.84" font-size="6.9" fill="#34496a" stroke="#34496a" stroke-width="0.08" text-anchor="middle">8</text>
<text x="175.6" y="229.84" font-size="6.9" fill="#34496a" stroke="#34496a" stroke-width="0.08" text-anchor="middle">4</text>
<text x="193.9" y="229.84" font-size="6.9" fill="#34496a" stroke="#34496a" stroke-width="0.08" text-anchor="middle">1</text>
<text x="212.2" y="229.84" font-size="6.9" fill="#34496a" stroke="#34496a" stroke-width="0.08" text-anchor="middle">0</text>
<text x="230.5" y="229.84" font-size="6.9" fill="#34496a" stroke="#34496a" stroke-width="0.08" text-anchor="middle">0</text>
<text x="248.8" y="229.84" font-size="6.9" fill="#34496a" stroke="#34496a" stroke-width="0.08" text-anchor="middle">0</text>
<text transform="translate(302.4 189.6) scale(0.9 1)" font-size="7" fill="#303030" stroke="#303030" stroke-width="0.08" textLength="35.78" lengthAdjust="spacing">Nos. at risk</text>
<text transform="translate(301.9 199.9) scale(0.9 1)" font-size="7" fill="#eea243" stroke="#eea243" stroke-width="0.08" text-anchor="end" textLength="20.22" lengthAdjust="spacing">Arm A</text>
<text x="308.4" y="199.9" font-size="6.9" fill="#eea243" stroke="#eea243" stroke-width="0.08" text-anchor="middle">43</text>
<text x="326.7" y="199.9" font-size="6.9" fill="#eea243" stroke="#eea243" stroke-width="0.08" text-anchor="middle">37</text>
<text x="345" y="199.9" font-size="6.9" fill="#eea243" stroke="#eea243" stroke-width="0.08" text-anchor="middle">35</text>
<text x="363.3" y="199.9" font-size="6.9" fill="#eea243" stroke="#eea243" stroke-width="0.08" text-anchor="middle">32</text>
<text x="381.6" y="199.9" font-size="6.9" fill="#eea243" stroke="#eea243" stroke-width="0.08" text-anchor="middle">28</text>
<text x="399.9" y="199.9" font-size="6.9" fill="#eea243" stroke="#eea243" stroke-width="0.08" text-anchor="middle">26</text>
<text x="418.2" y="199.9" font-size="6.9" fill="#eea243" stroke="#eea243" stroke-width="0.08" text-anchor="middle">21</text>
<text x="436.5" y="199.9" font-size="6.9" fill="#eea243" stroke="#eea243" stroke-width="0.08" text-anchor="middle">6</text>
<text x="454.8" y="199.9" font-size="6.9" fill="#eea243" stroke="#eea243" stroke-width="0.08" text-anchor="middle">4</text>
<text x="473.1" y="199.9" font-size="6.9" fill="#eea243" stroke="#eea243" stroke-width="0.08" text-anchor="middle">1</text>
<text x="491.4" y="199.9" font-size="6.9" fill="#eea243" stroke="#eea243" stroke-width="0.08" text-anchor="middle">0</text>
<text x="509.7" y="199.9" font-size="6.9" fill="#eea243" stroke="#eea243" stroke-width="0.08" text-anchor="middle">0</text>
<text transform="translate(301.9 209.88) scale(0.9 1)" font-size="7" fill="#b02c4e" stroke="#b02c4e" stroke-width="0.08" text-anchor="end" textLength="20.22" lengthAdjust="spacing">Arm B</text>
<text x="308.4" y="209.88" font-size="6.9" fill="#b02c4e" stroke="#b02c4e" stroke-width="0.08" text-anchor="middle">30</text>
<text x="326.7" y="209.88" font-size="6.9" fill="#b02c4e" stroke="#b02c4e" stroke-width="0.08" text-anchor="middle">29</text>
<text x="345" y="209.88" font-size="6.9" fill="#b02c4e" stroke="#b02c4e" stroke-width="0.08" text-anchor="middle">27</text>
<text x="363.3" y="209.88" font-size="6.9" fill="#b02c4e" stroke="#b02c4e" stroke-width="0.08" text-anchor="middle">25</text>
<text x="381.6" y="209.88" font-size="6.9" fill="#b02c4e" stroke="#b02c4e" stroke-width="0.08" text-anchor="middle">22</text>
<text x="399.9" y="209.88" font-size="6.9" fill="#b02c4e" stroke="#b02c4e" stroke-width="0.08" text-anchor="middle">13</text>
<text x="418.2" y="209.88" font-size="6.9" fill="#b02c4e" stroke="#b02c4e" stroke-width="0.08" text-anchor="middle">10</text>
<text x="436.5" y="209.88" font-size="6.9" fill="#b02c4e" stroke="#b02c4e" stroke-width="0.08" text-anchor="middle">9</text>
<text x="454.8" y="209.88" font-size="6.9" fill="#b02c4e" stroke="#b02c4e" stroke-width="0.08" text-anchor="middle">2</text>
<text x="473.1" y="209.88" font-size="6.9" fill="#b02c4e" stroke="#b02c4e" stroke-width="0.08" text-anchor="middle">0</text>
<text x="491.4" y="209.88" font-size="6.9" fill="#b02c4e" stroke="#b02c4e" stroke-width="0.08" text-anchor="middle">0</text>
<text x="509.7" y="209.88" font-size="6.9" fill="#b02c4e" stroke="#b02c4e" stroke-width="0.08" text-anchor="middle">0</text>
<text transform="translate(301.9 219.86) scale(0.9 1)" font-size="7" fill="#55a04f" stroke="#55a04f" stroke-width="0.08" text-anchor="end" textLength="20.22" lengthAdjust="spacing">Arm C</text>
<text x="308.4" y="219.86" font-size="6.9" fill="#55a04f" stroke="#55a04f" stroke-width="0.08" text-anchor="middle">33</text>
<text x="326.7" y="219.86" font-size="6.9" fill="#55a04f" stroke="#55a04f" stroke-width="0.08" text-anchor="middle">29</text>
<text x="345" y="219.86" font-size="6.9" fill="#55a04f" stroke="#55a04f" stroke-width="0.08" text-anchor="middle">27</text>
<text x="363.3" y="219.86" font-size="6.9" fill="#55a04f" stroke="#55a04f" stroke-width="0.08" text-anchor="middle">25</text>
<text x="381.6" y="219.86" font-size="6.9" fill="#55a04f" stroke="#55a04f" stroke-width="0.08" text-anchor="middle">18</text>
<text x="399.9" y="219.86" font-size="6.9" fill="#55a04f" stroke="#55a04f" stroke-width="0.08" text-anchor="middle">14</text>
<text x="418.2" y="219.86" font-size="6.9" fill="#55a04f" stroke="#55a04f" stroke-width="0.08" text-anchor="middle">12</text>
<text x="436.5" y="219.86" font-size="6.9" fill="#55a04f" stroke="#55a04f" stroke-width="0.08" text-anchor="middle">8</text>
<text x="454.8" y="219.86" font-size="6.9" fill="#55a04f" stroke="#55a04f" stroke-width="0.08" text-anchor="middle">4</text>
<text x="473.1" y="219.86" font-size="6.9" fill="#55a04f" stroke="#55a04f" stroke-width="0.08" text-anchor="middle">0</text>
<text x="491.4" y="219.86" font-size="6.9" fill="#55a04f" stroke="#55a04f" stroke-width="0.08" text-anchor="middle">0</text>
<text x="509.7" y="219.86" font-size="6.9" fill="#55a04f" stroke="#55a04f" stroke-width="0.08" text-anchor="middle">0</text>
<text transform="translate(301.9 229.84) scale(0.9 1)" font-size="7" fill="#34496a" stroke="#34496a" stroke-width="0.08" text-anchor="end" textLength="20.44" lengthAdjust="spacing">Arm D</text>
<text x="308.4" y="229.84" font-size="6.9" fill="#34496a" stroke="#34496a" stroke-width="0.08" text-anchor="middle">41</text>
<text x="326.7" y="229.84" font-size="6.9" fill="#34496a" stroke="#34496a" stroke-width="0.08" text-anchor="middle">39</text>
<text x="345" y="229.84" font-size="6.9" fill="#34496a" stroke="#34496a" stroke-width="0.08" text-anchor="middle">35</text>
<text x="363.3" y="229.84" font-size="6.9" fill="#34496a" stroke="#34496a" stroke-width="0.08" text-anchor="middle">31</text>
<text x="381.6" y="229.84" font-size="6.9" fill="#34496a" stroke="#34496a" stroke-width="0.08" text-anchor="middle">30</text>
<text x="399.9" y="229.84" font-size="6.9" fill="#34496a" stroke="#34496a" stroke-width="0.08" text-anchor="middle">24</text>
<text x="418.2" y="229.84" font-size="6.9" fill="#34496a" stroke="#34496a" stroke-width="0.08" text-anchor="middle">21</text>
<text x="436.5" y="229.84" font-size="6.9" fill="#34496a" stroke="#34496a" stroke-width="0.08" text-anchor="middle">14</text>
<text x="454.8" y="229.84" font-size="6.9" fill="#34496a" stroke="#34496a" stroke-width="0.08" text-anchor="middle">3</text>
<text x="473.1" y="229.84" font-size="6.9" fill="#34496a" stroke="#34496a" stroke-width="0.08" text-anchor="middle">0</text>
<text x="491.4" y="229.84" font-size="6.9" fill="#34496a" stroke="#34496a" stroke-width="0.08" text-anchor="middle">0</text>
<text x="509.7" y="229.84" font-size="6.9" fill="#34496a" stroke="#34496a" stroke-width="0.08" text-anchor="middle">0</text>
<text transform="translate(171.4 431.8) scale(0.9 1)" font-size="7" fill="#303030" stroke="#303030" stroke-width="0.08" textLength="35.78" lengthAdjust="spacing">Nos. at risk</text>
<text transform="translate(170.9 442.1) scale(0.9 1)" font-size="7" fill="#eea243" stroke="#eea243" stroke-width="0.08" text-anchor="end" textLength="20.22" lengthAdjust="spacing">Arm A</text>
<text x="177.4" y="442.1" font-size="6.9" fill="#eea243" stroke="#eea243" stroke-width="0.08" text-anchor="middle">30</text>
<text x="195.7" y="442.1" font-size="6.9" fill="#eea243" stroke="#eea243" stroke-width="0.08" text-anchor="middle">20</text>
<text x="214" y="442.1" font-size="6.9" fill="#eea243" stroke="#eea243" stroke-width="0.08" text-anchor="middle">16</text>
<text x="232.3" y="442.1" font-size="6.9" fill="#eea243" stroke="#eea243" stroke-width="0.08" text-anchor="middle">12</text>
<text x="250.6" y="442.1" font-size="6.9" fill="#eea243" stroke="#eea243" stroke-width="0.08" text-anchor="middle">9</text>
<text x="268.9" y="442.1" font-size="6.9" fill="#eea243" stroke="#eea243" stroke-width="0.08" text-anchor="middle">6</text>
<text x="287.2" y="442.1" font-size="6.9" fill="#eea243" stroke="#eea243" stroke-width="0.08" text-anchor="middle">4</text>
<text x="305.5" y="442.1" font-size="6.9" fill="#eea243" stroke="#eea243" stroke-width="0.08" text-anchor="middle">1</text>
<text x="323.8" y="442.1" font-size="6.9" fill="#eea243" stroke="#eea243" stroke-width="0.08" text-anchor="middle">0</text>
<text x="342.1" y="442.1" font-size="6.9" fill="#eea243" stroke="#eea243" stroke-width="0.08" text-anchor="middle">0</text>
<text x="360.4" y="442.1" font-size="6.9" fill="#eea243" stroke="#eea243" stroke-width="0.08" text-anchor="middle">0</text>
<text x="378.7" y="442.1" font-size="6.9" fill="#eea243" stroke="#eea243" stroke-width="0.08" text-anchor="middle">0</text>
<text transform="translate(170.9 452.08) scale(0.9 1)" font-size="7" fill="#b02c4e" stroke="#b02c4e" stroke-width="0.08" text-anchor="end" textLength="20.22" lengthAdjust="spacing">Arm B</text>
<text x="177.4" y="452.08" font-size="6.9" fill="#b02c4e" stroke="#b02c4e" stroke-width="0.08" text-anchor="middle">35</text>
<text x="195.7" y="452.08" font-size="6.9" fill="#b02c4e" stroke="#b02c4e" stroke-width="0.08" text-anchor="middle">23</text>
<text x="214" y="452.08" font-size="6.9" fill="#b02c4e" stroke="#b02c4e" stroke-width="0.08" text-anchor="middle">16</text>
<text x="232.3" y="452.08" font-size="6.9" fill="#b02c4e" stroke="#b02c4e" stroke-width="0.08" text-anchor="middle">14</text>
<text x="250.6" y="452.08" font-size="6.9" fill="#b02c4e" stroke="#b02c4e" stroke-width="0.08" text-anchor="middle">11</text>
<text x="268.9" y="452.08" font-size="6.9" fill="#b02c4e" stroke="#b02c4e" stroke-width="0.08" text-anchor="middle">8</text>
<text x="287.2" y="452.08" font-size="6.9" fill="#b02c4e" stroke="#b02c4e" stroke-width="0.08" text-anchor="middle">8</text>
<text x="305.5" y="452.08" font-size="6.9" fill="#b02c4e" stroke="#b02c4e" stroke-width="0.08" text-anchor="middle">4</text>
<text x="323.8" y="452.08" font-size="6.9" fill="#b02c4e" stroke="#b02c4e" stroke-width="0.08" text-anchor="middle">0</text>
<text x="342.1" y="452.08" font-size="6.9" fill="#b02c4e" stroke="#b02c4e" stroke-width="0.08" text-anchor="middle">0</text>
<text x="360.4" y="452.08" font-size="6.9" fill="#b02c4e" stroke="#b02c4e" stroke-width="0.08" text-anchor="middle">0</text>
<text x="378.7" y="452.08" font-size="6.9" fill="#b02c4e" stroke="#b02c4e" stroke-width="0.08" text-anchor="middle">0</text>
<text transform="translate(170.9 462.06) scale(0.9 1)" font-size="7" fill="#55a04f" stroke="#55a04f" stroke-width="0.08" text-anchor="end" textLength="20.22" lengthAdjust="spacing">Arm C</text>
<text x="177.4" y="462.06" font-size="6.9" fill="#55a04f" stroke="#55a04f" stroke-width="0.08" text-anchor="middle">35</text>
<text x="195.7" y="462.06" font-size="6.9" fill="#55a04f" stroke="#55a04f" stroke-width="0.08" text-anchor="middle">22</text>
<text x="214" y="462.06" font-size="6.9" fill="#55a04f" stroke="#55a04f" stroke-width="0.08" text-anchor="middle">16</text>
<text x="232.3" y="462.06" font-size="6.9" fill="#55a04f" stroke="#55a04f" stroke-width="0.08" text-anchor="middle">11</text>
<text x="250.6" y="462.06" font-size="6.9" fill="#55a04f" stroke="#55a04f" stroke-width="0.08" text-anchor="middle">6</text>
<text x="268.9" y="462.06" font-size="6.9" fill="#55a04f" stroke="#55a04f" stroke-width="0.08" text-anchor="middle">6</text>
<text x="287.2" y="462.06" font-size="6.9" fill="#55a04f" stroke="#55a04f" stroke-width="0.08" text-anchor="middle">5</text>
<text x="305.5" y="462.06" font-size="6.9" fill="#55a04f" stroke="#55a04f" stroke-width="0.08" text-anchor="middle">2</text>
<text x="323.8" y="462.06" font-size="6.9" fill="#55a04f" stroke="#55a04f" stroke-width="0.08" text-anchor="middle">0</text>
<text x="342.1" y="462.06" font-size="6.9" fill="#55a04f" stroke="#55a04f" stroke-width="0.08" text-anchor="middle">0</text>
<text x="360.4" y="462.06" font-size="6.9" fill="#55a04f" stroke="#55a04f" stroke-width="0.08" text-anchor="middle">0</text>
<text x="378.7" y="462.06" font-size="6.9" fill="#55a04f" stroke="#55a04f" stroke-width="0.08" text-anchor="middle">0</text>
<text transform="translate(170.9 472.04) scale(0.9 1)" font-size="7" fill="#34496a" stroke="#34496a" stroke-width="0.08" text-anchor="end" textLength="20.44" lengthAdjust="spacing">Arm D</text>
<text x="177.4" y="472.04" font-size="6.9" fill="#34496a" stroke="#34496a" stroke-width="0.08" text-anchor="middle">23</text>
<text x="195.7" y="472.04" font-size="6.9" fill="#34496a" stroke="#34496a" stroke-width="0.08" text-anchor="middle">18</text>
<text x="214" y="472.04" font-size="6.9" fill="#34496a" stroke="#34496a" stroke-width="0.08" text-anchor="middle">15</text>
<text x="232.3" y="472.04" font-size="6.9" fill="#34496a" stroke="#34496a" stroke-width="0.08" text-anchor="middle">11</text>
<text x="250.6" y="472.04" font-size="6.9" fill="#34496a" stroke="#34496a" stroke-width="0.08" text-anchor="middle">8</text>
<text x="268.9" y="472.04" font-size="6.9" fill="#34496a" stroke="#34496a" stroke-width="0.08" text-anchor="middle">5</text>
<text x="287.2" y="472.04" font-size="6.9" fill="#34496a" stroke="#34496a" stroke-width="0.08" text-anchor="middle">3</text>
<text x="305.5" y="472.04" font-size="6.9" fill="#34496a" stroke="#34496a" stroke-width="0.08" text-anchor="middle">2</text>
<text x="323.8" y="472.04" font-size="6.9" fill="#34496a" stroke="#34496a" stroke-width="0.08" text-anchor="middle">0</text>
<text x="342.1" y="472.04" font-size="6.9" fill="#34496a" stroke="#34496a" stroke-width="0.08" text-anchor="middle">0</text>
<text x="360.4" y="472.04" font-size="6.9" fill="#34496a" stroke="#34496a" stroke-width="0.08" text-anchor="middle">0</text>
<text x="378.7" y="472.04" font-size="6.9" fill="#34496a" stroke="#34496a" stroke-width="0.08" text-anchor="middle">0</text>
<text transform="translate(41.3 674.8) scale(0.9 1)" font-size="7" fill="#303030" stroke="#303030" stroke-width="0.08" textLength="35.78" lengthAdjust="spacing">Nos. at risk</text>
<text transform="translate(39.4 685.1) scale(0.9 1)" font-size="7" fill="#325a85" stroke="#325a85" stroke-width="0.08" text-anchor="end" textLength="34.22" lengthAdjust="spacing">Low Ki-67:</text>
<text x="47.3" y="685.1" font-size="6.9" fill="#325a85" stroke="#325a85" stroke-width="0.08" text-anchor="middle">108</text>
<text x="65.6" y="685.1" font-size="6.9" fill="#325a85" stroke="#325a85" stroke-width="0.08" text-anchor="middle">94</text>
<text x="83.9" y="685.1" font-size="6.9" fill="#325a85" stroke="#325a85" stroke-width="0.08" text-anchor="middle">86</text>
<text x="102.2" y="685.1" font-size="6.9" fill="#325a85" stroke="#325a85" stroke-width="0.08" text-anchor="middle">77</text>
<text x="120.5" y="685.1" font-size="6.9" fill="#325a85" stroke="#325a85" stroke-width="0.08" text-anchor="middle">66</text>
<text x="138.8" y="685.1" font-size="6.9" fill="#325a85" stroke="#325a85" stroke-width="0.08" text-anchor="middle">53</text>
<text x="157.1" y="685.1" font-size="6.9" fill="#325a85" stroke="#325a85" stroke-width="0.08" text-anchor="middle">40</text>
<text x="175.4" y="685.1" font-size="6.9" fill="#325a85" stroke="#325a85" stroke-width="0.08" text-anchor="middle">23</text>
<text x="193.7" y="685.1" font-size="6.9" fill="#325a85" stroke="#325a85" stroke-width="0.08" text-anchor="middle">4</text>
<text x="212" y="685.1" font-size="6.9" fill="#325a85" stroke="#325a85" stroke-width="0.08" text-anchor="middle">0</text>
<text x="230.3" y="685.1" font-size="6.9" fill="#325a85" stroke="#325a85" stroke-width="0.08" text-anchor="middle">0</text>
<text x="248.6" y="685.1" font-size="6.9" fill="#325a85" stroke="#325a85" stroke-width="0.08" text-anchor="middle">0</text>
<text transform="translate(38.8 695.08) scale(0.9 1)" font-size="7" fill="#c0335a" stroke="#c0335a" stroke-width="0.08" text-anchor="end" textLength="36.22" lengthAdjust="spacing">High Ki-67:</text>
<text x="47.3" y="695.08" font-size="6.9" fill="#c0335a" stroke="#c0335a" stroke-width="0.08" text-anchor="middle">24</text>
<text x="65.6" y="695.08" font-size="6.9" fill="#c0335a" stroke="#c0335a" stroke-width="0.08" text-anchor="middle">16</text>
<text x="83.9" y="695.08" font-size="6.9" fill="#c0335a" stroke="#c0335a" stroke-width="0.08" text-anchor="middle">13</text>
<text x="102.2" y="695.08" font-size="6.9" fill="#c0335a" stroke="#c0335a" stroke-width="0.08" text-anchor="middle">11</text>
<text x="120.5" y="695.08" font-size="6.9" fill="#c0335a" stroke="#c0335a" stroke-width="0.08" text-anchor="middle">10</text>
<text x="138.8" y="695.08" font-size="6.9" fill="#c0335a" stroke="#c0335a" stroke-width="0.08" text-anchor="middle">7</text>
<text x="157.1" y="695.08" font-size="6.9" fill="#c0335a" stroke="#c0335a" stroke-width="0.08" text-anchor="middle">6</text>
<text x="175.4" y="695.08" font-size="6.9" fill="#c0335a" stroke="#c0335a" stroke-width="0.08" text-anchor="middle">3</text>
<text x="193.7" y="695.08" font-size="6.9" fill="#c0335a" stroke="#c0335a" stroke-width="0.08" text-anchor="middle">0</text>
<text x="212" y="695.08" font-size="6.9" fill="#c0335a" stroke="#c0335a" stroke-width="0.08" text-anchor="middle">0</text>
<text x="230.3" y="695.08" font-size="6.9" fill="#c0335a" stroke="#c0335a" stroke-width="0.08" text-anchor="middle">0</text>
<text x="248.6" y="695.08" font-size="6.9" fill="#c0335a" stroke="#c0335a" stroke-width="0.08" text-anchor="middle">0</text>
<text transform="translate(302.3 674.8) scale(0.9 1)" font-size="7" fill="#303030" stroke="#303030" stroke-width="0.08" textLength="35.78" lengthAdjust="spacing">Nos. at risk</text>
<text transform="translate(300.2 685.1) scale(0.9 1)" font-size="7" fill="#325a85" stroke="#325a85" stroke-width="0.08" text-anchor="end" textLength="33.33" lengthAdjust="spacing">Low TP53:</text>
<text x="308.3" y="685.1" font-size="6.9" fill="#325a85" stroke="#325a85" stroke-width="0.08" text-anchor="middle">118</text>
<text x="326.6" y="685.1" font-size="6.9" fill="#325a85" stroke="#325a85" stroke-width="0.08" text-anchor="middle">103</text>
<text x="344.9" y="685.1" font-size="6.9" fill="#325a85" stroke="#325a85" stroke-width="0.08" text-anchor="middle">94</text>
<text x="363.2" y="685.1" font-size="6.9" fill="#325a85" stroke="#325a85" stroke-width="0.08" text-anchor="middle">84</text>
<text x="381.5" y="685.1" font-size="6.9" fill="#325a85" stroke="#325a85" stroke-width="0.08" text-anchor="middle">74</text>
<text x="399.8" y="685.1" font-size="6.9" fill="#325a85" stroke="#325a85" stroke-width="0.08" text-anchor="middle">59</text>
<text x="418.1" y="685.1" font-size="6.9" fill="#325a85" stroke="#325a85" stroke-width="0.08" text-anchor="middle">45</text>
<text x="436.4" y="685.1" font-size="6.9" fill="#325a85" stroke="#325a85" stroke-width="0.08" text-anchor="middle">25</text>
<text x="454.7" y="685.1" font-size="6.9" fill="#325a85" stroke="#325a85" stroke-width="0.08" text-anchor="middle">4</text>
<text x="473" y="685.1" font-size="6.9" fill="#325a85" stroke="#325a85" stroke-width="0.08" text-anchor="middle">0</text>
<text x="491.3" y="685.1" font-size="6.9" fill="#325a85" stroke="#325a85" stroke-width="0.08" text-anchor="middle">0</text>
<text x="509.6" y="685.1" font-size="6.9" fill="#325a85" stroke="#325a85" stroke-width="0.08" text-anchor="middle">0</text>
<text transform="translate(299.7 695.08) scale(0.9 1)" font-size="7" fill="#c0335a" stroke="#c0335a" stroke-width="0.08" text-anchor="end" textLength="35.56" lengthAdjust="spacing">High TP53:</text>
<text x="308.3" y="695.08" font-size="6.9" fill="#c0335a" stroke="#c0335a" stroke-width="0.08" text-anchor="middle">15</text>
<text x="326.6" y="695.08" font-size="6.9" fill="#c0335a" stroke="#c0335a" stroke-width="0.08" text-anchor="middle">8</text>
<text x="344.9" y="695.08" font-size="6.9" fill="#c0335a" stroke="#c0335a" stroke-width="0.08" text-anchor="middle">6</text>
<text x="363.2" y="695.08" font-size="6.9" fill="#c0335a" stroke="#c0335a" stroke-width="0.08" text-anchor="middle">5</text>
<text x="381.5" y="695.08" font-size="6.9" fill="#c0335a" stroke="#c0335a" stroke-width="0.08" text-anchor="middle">3</text>
<text x="399.8" y="695.08" font-size="6.9" fill="#c0335a" stroke="#c0335a" stroke-width="0.08" text-anchor="middle">2</text>
<text x="418.1" y="695.08" font-size="6.9" fill="#c0335a" stroke="#c0335a" stroke-width="0.08" text-anchor="middle">2</text>
<text x="436.4" y="695.08" font-size="6.9" fill="#c0335a" stroke="#c0335a" stroke-width="0.08" text-anchor="middle">1</text>
<text x="454.7" y="695.08" font-size="6.9" fill="#c0335a" stroke="#c0335a" stroke-width="0.08" text-anchor="middle">0</text>
<text x="473" y="695.08" font-size="6.9" fill="#c0335a" stroke="#c0335a" stroke-width="0.08" text-anchor="middle">0</text>
<text x="491.3" y="695.08" font-size="6.9" fill="#c0335a" stroke="#c0335a" stroke-width="0.08" text-anchor="middle">0</text>
<text x="509.6" y="695.08" font-size="6.9" fill="#c0335a" stroke="#c0335a" stroke-width="0.08" text-anchor="middle">0</text>
<line x1="43.5" y1="107.6" x2="53.8" y2="107.6" stroke="#dcc08c" stroke-width="1.5"/>
<text transform="translate(57.1 109.7) scale(0.9 1)" font-size="6.7" fill="#303030" stroke="#303030" stroke-width="0.08" textLength="102.11" lengthAdjust="spacing">Arm A, BR<tspan font-weight="bold" font-size="7.4" dx="-0.8" dy="-0.6">→</tspan><tspan dx="-0.8" dy="0.6">R, median (95% CI)</tspan></text>
<text transform="translate(57.1 118) scale(0.9 1)" font-size="6.7" fill="#303030" stroke="#303030" stroke-width="0.08" textLength="65.56" lengthAdjust="spacing">= 5.5 years (1.8, NA)</text>
<line x1="43.5" y1="125.6" x2="53.8" y2="125.6" stroke="#a8405e" stroke-width="1.5"/>
<text transform="translate(57.1 127.7) scale(0.9 1)" font-size="6.7" fill="#303030" stroke="#303030" stroke-width="0.08" textLength="98.33" lengthAdjust="spacing">Arm B, BVR<tspan font-weight="bold" font-size="7.4" dx="-0.8" dy="-0.6">→</tspan><tspan dx="-0.8" dy="0.6">R = NR (4.8, NA)</tspan></text>
<line x1="43.5" y1="135.7" x2="53.8" y2="135.7" stroke="#8cba88" stroke-width="1.5"/>
<text transform="translate(57.1 137.8) scale(0.9 1)" font-size="6.7" fill="#303030" stroke="#303030" stroke-width="0.08" textLength="97.67" lengthAdjust="spacing">Arm C, BR<tspan font-weight="bold" font-size="7.4" dx="-0.8" dy="-0.6">→</tspan><tspan dx="-0.8" dy="0.6">LR = NR (5.3, NA)</tspan></text>
<line x1="43.5" y1="145.4" x2="53.8" y2="145.4" stroke="#5a7694" stroke-width="1.5"/>
<text transform="translate(57.1 147.5) scale(0.9 1)" font-size="6.7" fill="#303030" stroke="#303030" stroke-width="0.08" textLength="102.78" lengthAdjust="spacing">Arm D, BVR<tspan font-weight="bold" font-size="7.4" dx="-0.8" dy="-0.6">→</tspan><tspan dx="-0.8" dy="0.6">LR = NR (4.0, NA)</tspan></text>
<line x1="305.3" y1="107.7" x2="316" y2="107.7" stroke="#dcc08c" stroke-width="1.5"/>
<text transform="translate(319.2 109.8) scale(0.9 1)" font-size="6.7" fill="#303030" stroke="#303030" stroke-width="0.08" textLength="102.11" lengthAdjust="spacing">Arm A, BR<tspan font-weight="bold" font-size="7.4" dx="-0.8" dy="-0.6">→</tspan><tspan dx="-0.8" dy="0.6">R, median (95% CI)</tspan></text>
<text transform="translate(319.2 118.2) scale(0.9 1)" font-size="6.7" fill="#303030" stroke="#303030" stroke-width="0.08" textLength="66.11" lengthAdjust="spacing">= 8.6 years (6.1, NA)</text>
<line x1="305.3" y1="125.6" x2="316" y2="125.6" stroke="#a8405e" stroke-width="1.5"/>
<text transform="translate(319.2 127.7) scale(0.9 1)" font-size="6.7" fill="#303030" stroke="#303030" stroke-width="0.08" textLength="97.33" lengthAdjust="spacing">Arm B, BVR<tspan font-weight="bold" font-size="7.4" dx="-0.8" dy="-0.6">→</tspan><tspan dx="-0.8" dy="0.6">R = 7.0 (4.6, NA)</tspan></text>
<line x1="305.3" y1="135.7" x2="316" y2="135.7" stroke="#8cba88" stroke-width="1.5"/>
<text transform="translate(319.2 137.8) scale(0.9 1)" font-size="6.7" fill="#303030" stroke="#303030" stroke-width="0.08" textLength="97.33" lengthAdjust="spacing">Arm C, BR<tspan font-weight="bold" font-size="7.4" dx="-0.8" dy="-0.6">→</tspan><tspan dx="-0.8" dy="0.6">LR = 8.3 (4.9, NA)</tspan></text>
<line x1="305.3" y1="145.4" x2="316" y2="145.4" stroke="#5a7694" stroke-width="1.5"/>
<text transform="translate(319.2 147.5) scale(0.9 1)" font-size="6.7" fill="#303030" stroke="#303030" stroke-width="0.08" textLength="102.22" lengthAdjust="spacing">Arm D, BVR<tspan font-weight="bold" font-size="7.4" dx="-0.8" dy="-0.6">→</tspan><tspan dx="-0.8" dy="0.6">LR = 7.7 (6.4, NA)</tspan></text>
<line x1="280.2" y1="286.1" x2="290.6" y2="286.1" stroke="#dcc08c" stroke-width="1.5"/>
<text transform="translate(294 288.2) scale(0.9 1)" font-size="6.7" fill="#303030" stroke="#303030" stroke-width="0.08" textLength="101.67" lengthAdjust="spacing">Arm A, BR<tspan font-weight="bold" font-size="7.4" dx="-0.8" dy="-0.6">→</tspan><tspan dx="-0.8" dy="0.6">R, median (95% CI)</tspan></text>
<text transform="translate(294 295.9) scale(0.9 1)" font-size="6.7" fill="#303030" stroke="#303030" stroke-width="0.08" textLength="65.67" lengthAdjust="spacing">= 2.8 years (1.0, 4.2)</text>
<line x1="280.2" y1="303.9" x2="290.6" y2="303.9" stroke="#a8405e" stroke-width="1.5"/>
<text transform="translate(294 306) scale(0.9 1)" font-size="6.7" fill="#303030" stroke="#303030" stroke-width="0.08" textLength="98.56" lengthAdjust="spacing">Arm B, BVR<tspan font-weight="bold" font-size="7.4" dx="-0.8" dy="-0.6">→</tspan><tspan dx="-0.8" dy="0.6">R = 1.8 (0.9, 4.0)</tspan></text>
<line x1="280.2" y1="314" x2="290.6" y2="314" stroke="#8cba88" stroke-width="1.5"/>
<text transform="translate(294 316.1) scale(0.9 1)" font-size="6.7" fill="#303030" stroke="#303030" stroke-width="0.08" textLength="98.56" lengthAdjust="spacing">Arm C, BR<tspan font-weight="bold" font-size="7.4" dx="-0.8" dy="-0.6">→</tspan><tspan dx="-0.8" dy="0.6">LR = 2.0 (0.9, 3.0)</tspan></text>
<line x1="280.2" y1="324.1" x2="290.6" y2="324.1" stroke="#5a7694" stroke-width="1.5"/>
<text transform="translate(294 326.2) scale(0.9 1)" font-size="6.7" fill="#303030" stroke="#303030" stroke-width="0.08" textLength="106.11" lengthAdjust="spacing">Arm D, BVR<tspan font-weight="bold" font-size="7.4" dx="-0.8" dy="-0.6">→</tspan><tspan dx="-0.8" dy="0.6">LR = 3.8 (2.3, 5.9)</tspan></text>
<line x1="43" y1="617" x2="53.4" y2="617" stroke="#5a7694" stroke-width="1.5"/>
<text transform="translate(56.9 618.9) scale(0.9 1)" font-size="6.7" fill="#303030" stroke="#303030" stroke-width="0.08" textLength="67.56" lengthAdjust="spacing">Ki-67 &lt;30% (n = 108)</text>
<line x1="43" y1="626.8" x2="53.4" y2="626.8" stroke="#a8405e" stroke-width="1.5"/>
<text transform="translate(56.9 628.8) scale(0.9 1)" font-size="6.7" fill="#303030" stroke="#303030" stroke-width="0.08" textLength="62.78" lengthAdjust="spacing">Ki-67 ≥30% (n = 24)</text>
<text transform="translate(56.9 637.4) scale(0.9 1)" font-size="6.7" fill="#303030" stroke="#303030" stroke-width="0.08" textLength="109" lengthAdjust="spacing">2-sided stratified logrank <tspan font-style="italic">P</tspan> = .010</text>
<line x1="304.3" y1="617" x2="315" y2="617" stroke="#5a7694" stroke-width="1.5"/>
<text transform="translate(318 618.9) scale(0.9 1)" font-size="6.7" fill="#303030" stroke="#303030" stroke-width="0.08" textLength="68.33" lengthAdjust="spacing">TP53 &lt;50% (n = 118)</text>
<line x1="304.3" y1="626.8" x2="315" y2="626.8" stroke="#a8405e" stroke-width="1.5"/>
<text transform="translate(318 628.8) scale(0.9 1)" font-size="6.7" fill="#303030" stroke="#303030" stroke-width="0.08" textLength="63.33" lengthAdjust="spacing">TP53 ≥50% (n = 15)</text>
<text transform="translate(318 637.4) scale(0.9 1)" font-size="6.7" fill="#303030" stroke="#303030" stroke-width="0.08" textLength="112.78" lengthAdjust="spacing">2-sided stratified logrank <tspan font-style="italic">P</tspan> &lt; .0001</text>
<path d="M47.5 32.3H57V39.4H71.9V46.8H77.4V53.5H79.8V61.5H100V70.5H149V96.5H157.6V110.3H158.5V123.3H190.2" fill="none" stroke="#f0a23a" stroke-width="1.05" stroke-linejoin="miter" stroke-linecap="square"/>
<line x1="94.3" y1="59.9" x2="94.3" y2="63.1" stroke="#f0a23a" stroke-width="1"/>
<line x1="137.2" y1="68.9" x2="137.2" y2="72.1" stroke="#f0a23a" stroke-width="1"/>
<line x1="164.5" y1="121.7" x2="164.5" y2="124.9" stroke="#f0a23a" stroke-width="1"/>
<line x1="190.2" y1="121.7" x2="190.2" y2="124.9" stroke="#f0a23a" stroke-width="1"/>
<path d="M47.5 32.3H66.6V38.6H79.5V44.8H129.3V53.3H145.5V71.3H196.2" fill="none" stroke="#66b456" stroke-width="1.05" stroke-linejoin="miter" stroke-linecap="square"/>
<line x1="110.6" y1="43.2" x2="110.6" y2="46.4" stroke="#66b456" stroke-width="1"/>
<line x1="115.4" y1="43.2" x2="115.4" y2="46.4" stroke="#66b456" stroke-width="1"/>
<line x1="185.6" y1="69.7" x2="185.6" y2="72.9" stroke="#66b456" stroke-width="1"/>
<line x1="189" y1="69.7" x2="189" y2="72.9" stroke="#66b456" stroke-width="1"/>
<line x1="196.2" y1="69.7" x2="196.2" y2="72.9" stroke="#66b456" stroke-width="1"/>
<path d="M47.5 32.3H56V37.1H59.4V42.4H60.5V47.3H88V54.1H136.3V62.3H145.5V70.3H182.9V90.1H195.4" fill="none" stroke="#bb2b4c" stroke-width="1.05" stroke-linejoin="miter" stroke-linecap="square"/>
<line x1="56.1" y1="35.5" x2="56.1" y2="38.7" stroke="#bb2b4c" stroke-width="1"/>
<line x1="63" y1="45.7" x2="63" y2="48.9" stroke="#bb2b4c" stroke-width="1"/>
<line x1="74.4" y1="45.7" x2="74.4" y2="48.9" stroke="#bb2b4c" stroke-width="1"/>
<line x1="75.2" y1="45.7" x2="75.2" y2="48.9" stroke="#bb2b4c" stroke-width="1"/>
<line x1="76.9" y1="45.7" x2="76.9" y2="48.9" stroke="#bb2b4c" stroke-width="1"/>
<line x1="85.6" y1="45.7" x2="85.6" y2="48.9" stroke="#bb2b4c" stroke-width="1"/>
<line x1="94.3" y1="52.5" x2="94.3" y2="55.7" stroke="#bb2b4c" stroke-width="1"/>
<line x1="100.5" y1="52.5" x2="100.5" y2="55.7" stroke="#bb2b4c" stroke-width="1"/>
<line x1="150.7" y1="68.7" x2="150.7" y2="71.9" stroke="#bb2b4c" stroke-width="1"/>
<line x1="152.6" y1="68.7" x2="152.6" y2="71.9" stroke="#bb2b4c" stroke-width="1"/>
<line x1="165.1" y1="68.7" x2="165.1" y2="71.9" stroke="#bb2b4c" stroke-width="1"/>
<line x1="166.4" y1="68.7" x2="166.4" y2="71.9" stroke="#bb2b4c" stroke-width="1"/>
<line x1="168.5" y1="68.7" x2="168.5" y2="71.9" stroke="#bb2b4c" stroke-width="1"/>
<line x1="177.6" y1="68.7" x2="177.6" y2="71.9" stroke="#bb2b4c" stroke-width="1"/>
<line x1="195.4" y1="88.5" x2="195.4" y2="91.7" stroke="#bb2b4c" stroke-width="1"/>
<path d="M47.5 32.3H52.2V37.1H64.7V42.3H101.5V47.5H108.2V53.8H119.5V59.3H120.8V65H129.4V72.2H148.8V80.8H212" fill="none" stroke="#2a4262" stroke-width="1.05" stroke-linejoin="miter" stroke-linecap="square"/>
<line x1="51.5" y1="30.7" x2="51.5" y2="33.9" stroke="#2a4262" stroke-width="1"/>
<line x1="79.8" y1="40.7" x2="79.8" y2="43.9" stroke="#2a4262" stroke-width="1"/>
<line x1="82.7" y1="40.7" x2="82.7" y2="43.9" stroke="#2a4262" stroke-width="1"/>
<line x1="97.6" y1="40.7" x2="97.6" y2="43.9" stroke="#2a4262" stroke-width="1"/>
<line x1="159" y1="79.2" x2="159" y2="82.4" stroke="#2a4262" stroke-width="1"/>
<line x1="166.3" y1="79.2" x2="166.3" y2="82.4" stroke="#2a4262" stroke-width="1"/>
<line x1="169.4" y1="79.2" x2="169.4" y2="82.4" stroke="#2a4262" stroke-width="1"/>
<line x1="184" y1="79.2" x2="184" y2="82.4" stroke="#2a4262" stroke-width="1"/>
<line x1="212" y1="79.2" x2="212" y2="82.4" stroke="#2a4262" stroke-width="1"/>
<path d="M308.4 32.3H318V35.2H334V38H340V40.6H349.3V47H363.7V51H366V53.2H403.1V57.3H407.7V61.3H417.5V67.1H419.2V72.5H420.8V76.3H432V86.5H465.4V107.7H468.5V129.2H486.9V150.8" fill="none" stroke="#f0a23a" stroke-width="1.05" stroke-linejoin="miter" stroke-linecap="square"/>
<line x1="380" y1="51.6" x2="380" y2="54.8" stroke="#f0a23a" stroke-width="1"/>
<line x1="440" y1="84.9" x2="440" y2="88.1" stroke="#f0a23a" stroke-width="1"/>
<line x1="450" y1="84.9" x2="450" y2="88.1" stroke="#f0a23a" stroke-width="1"/>
<line x1="458" y1="84.9" x2="458" y2="88.1" stroke="#f0a23a" stroke-width="1"/>
<line x1="462" y1="84.9" x2="462" y2="88.1" stroke="#f0a23a" stroke-width="1"/>
<path d="M308.4 32.3H317.5V35.5H333.8V37.6H339.1V41.9H345V47H366V60.2H372.9V64.3H397.3V70.5H405.4V76.3H460.3V100.8H466.9" fill="none" stroke="#66b456" stroke-width="1.05" stroke-linejoin="miter" stroke-linecap="square"/>
<line x1="378" y1="62.7" x2="378" y2="65.9" stroke="#66b456" stroke-width="1"/>
<line x1="392" y1="62.7" x2="392" y2="65.9" stroke="#66b456" stroke-width="1"/>
<line x1="410" y1="74.7" x2="410" y2="77.9" stroke="#66b456" stroke-width="1"/>
<line x1="420" y1="74.7" x2="420" y2="77.9" stroke="#66b456" stroke-width="1"/>
<line x1="440" y1="74.7" x2="440" y2="77.9" stroke="#66b456" stroke-width="1"/>
<line x1="446" y1="74.7" x2="446" y2="77.9" stroke="#66b456" stroke-width="1"/>
<line x1="450" y1="74.7" x2="450" y2="77.9" stroke="#66b456" stroke-width="1"/>
<line x1="462" y1="99.2" x2="462" y2="102.4" stroke="#66b456" stroke-width="1"/>
<line x1="464.5" y1="99.2" x2="464.5" y2="102.4" stroke="#66b456" stroke-width="1"/>
<line x1="466.9" y1="99.2" x2="466.9" y2="102.4" stroke="#66b456" stroke-width="1"/>
<path d="M308.4 32.3H326.8V40.3H350.4V44.3H363.7V48.1H370.6V53.3H388.7V55.5H391V61.3H392.7V66.5H396.1V71.7H397.9V76H399.4V83H420.8V90H436.2V96.6H463.1" fill="none" stroke="#bb2b4c" stroke-width="1.05" stroke-linejoin="miter" stroke-linecap="square"/>
<line x1="384" y1="51.7" x2="384" y2="54.9" stroke="#bb2b4c" stroke-width="1"/>
<line x1="405" y1="81.4" x2="405" y2="84.6" stroke="#bb2b4c" stroke-width="1"/>
<line x1="444" y1="95" x2="444" y2="98.2" stroke="#bb2b4c" stroke-width="1"/>
<line x1="448" y1="95" x2="448" y2="98.2" stroke="#bb2b4c" stroke-width="1"/>
<line x1="452" y1="95" x2="452" y2="98.2" stroke="#bb2b4c" stroke-width="1"/>
<line x1="455" y1="95" x2="455" y2="98.2" stroke="#bb2b4c" stroke-width="1"/>
<line x1="458" y1="95" x2="458" y2="98.2" stroke="#bb2b4c" stroke-width="1"/>
<line x1="463.1" y1="95" x2="463.1" y2="98.2" stroke="#bb2b4c" stroke-width="1"/>
<path d="M308.4 32.3H317.5V35.5H326.8V39H336V41.2H342.9V47.5H345.2V50.4H352.1V53.3H359.6V56.2H388.1V59H408.8V63.6H418.6V67.1H425V72H436.3V76.8H443.3V86.5H449.2V99.7H459.7V125.4H465.1V150.8" fill="none" stroke="#2a4262" stroke-width="1.05" stroke-linejoin="miter" stroke-linecap="square"/>
<line x1="356" y1="51.7" x2="356" y2="54.9" stroke="#2a4262" stroke-width="1"/>
<line x1="396" y1="57.4" x2="396" y2="60.6" stroke="#2a4262" stroke-width="1"/>
<line x1="398" y1="57.4" x2="398" y2="60.6" stroke="#2a4262" stroke-width="1"/>
<line x1="407" y1="57.4" x2="407" y2="60.6" stroke="#2a4262" stroke-width="1"/>
<line x1="428" y1="70.4" x2="428" y2="73.6" stroke="#2a4262" stroke-width="1"/>
<line x1="436" y1="70.4" x2="436" y2="73.6" stroke="#2a4262" stroke-width="1"/>
<line x1="447" y1="84.9" x2="447" y2="88.1" stroke="#2a4262" stroke-width="1"/>
<line x1="452" y1="98.1" x2="452" y2="101.3" stroke="#2a4262" stroke-width="1"/>
<line x1="455" y1="98.1" x2="455" y2="101.3" stroke="#2a4262" stroke-width="1"/>
<line x1="457" y1="98.1" x2="457" y2="101.3" stroke="#2a4262" stroke-width="1"/>
<path d="M177.3 274.6H179.5V277H181V281H182.5V285H184V289H185.5V292.5H187V296H188.5V299.5H190.5V302.5H192V306H194V309.5H196V313H197.5V316.5H199.6V319.3H212.3V323.8H219.8V327.9H222.1V331.9H229.6V336.5H231.9V340.6H242.3V344.6H246V348.5H250.4V350.5H253.8V353.7H267.7V361.5H268.5V365H271.1V370.2H281.5V371H297.1V385.7H313.5" fill="none" stroke="#f0a23a" stroke-width="1.05" stroke-linejoin="miter" stroke-linecap="square"/>
<line x1="261" y1="352.1" x2="261" y2="355.3" stroke="#f0a23a" stroke-width="1"/>
<line x1="287" y1="369.4" x2="287" y2="372.6" stroke="#f0a23a" stroke-width="1"/>
<line x1="313.5" y1="384.1" x2="313.5" y2="387.3" stroke="#f0a23a" stroke-width="1"/>
<path d="M177.3 274.6H178.2V278H179.2V282H180.5V286H182V290H183.5V293.5H185.4V302.4H187.5V304H189V306.5H190.5V309.5H192V312.5H193.5V315.5H194.5V318.3H196.2V325.3H201.9V327.2H204.2V329.6H206.5V331.9H207.7V334.8H213.8V337.7H222.7V341.2H227.7V344.6H228.7V346H231.5V349H232.5V352.9H234.4V355.8H235.4V360.6H238.3V362.5H239.2V365.4H242.1V369.2H280.6V373H320.4V391.8" fill="none" stroke="#66b456" stroke-width="1.05" stroke-linejoin="miter" stroke-linecap="square"/>
<line x1="297" y1="371.4" x2="297" y2="374.6" stroke="#66b456" stroke-width="1"/>
<line x1="299.7" y1="371.4" x2="299.7" y2="374.6" stroke="#66b456" stroke-width="1"/>
<line x1="314.4" y1="371.4" x2="314.4" y2="374.6" stroke="#66b456" stroke-width="1"/>
<path d="M177.3 274.6H178.1V279H179.1V283H180.1V287H181.1V291H182.3V295.3H186.1V302.1H190.8V305H191.5V308H193V311H194.8V313.6H199.6V320H200.5V322H201.5V324H203V327H204.5V329.2H206.5V331.3H207.7V334.2H213.8V337.1H222.7V340.6H223.8V344H236.8V347.2H245.5V350.5H247V354.8H258.5V355.5H259V362.4H298V368.4H315.3" fill="none" stroke="#bb2b4c" stroke-width="1.05" stroke-linejoin="miter" stroke-linecap="square"/>
<line x1="293.6" y1="360.8" x2="293.6" y2="364" stroke="#bb2b4c" stroke-width="1"/>
<line x1="296.2" y1="360.8" x2="296.2" y2="364" stroke="#bb2b4c" stroke-width="1"/>
<line x1="311" y1="366.8" x2="311" y2="370" stroke="#bb2b4c" stroke-width="1"/>
<line x1="315.3" y1="366.8" x2="315.3" y2="370" stroke="#bb2b4c" stroke-width="1"/>
<path d="M177.3 274.6H183.4V279.6H184.4V285H185V295.2H208.3V301.3H219.8V307.5H224.9V314.3H229.9V320H240.2V326H243.1V333.7H247.9V340.4H255.6V347.1H258.5V354.8H285.8V364.1H298.8V368H304.9V378H312.7" fill="none" stroke="#2a4262" stroke-width="1.05" stroke-linejoin="miter" stroke-linecap="square"/>
<line x1="197.3" y1="293.6" x2="197.3" y2="296.8" stroke="#2a4262" stroke-width="1"/>
<line x1="205.4" y1="293.6" x2="205.4" y2="296.8" stroke="#2a4262" stroke-width="1"/>
<line x1="283.5" y1="353.2" x2="283.5" y2="356.4" stroke="#2a4262" stroke-width="1"/>
<line x1="312.7" y1="376.4" x2="312.7" y2="379.6" stroke="#2a4262" stroke-width="1"/>
<path d="M47.3 517.4H48.6V518.8H49.8V521H50.3V527H54.7V532.2H57.5V536.2H60.1V539.7H62.2V542.6H64.5V546.6H64.9V561.3H79.4V571H91V577H108.5V582.3H127.4V587.2H142.2V594.5H158.4V600.8H183.5" fill="none" stroke="#bb2b4c" stroke-width="1.05" stroke-linejoin="miter" stroke-linecap="square"/>
<line x1="85.6" y1="569.4" x2="85.6" y2="572.6" stroke="#bb2b4c" stroke-width="1"/>
<line x1="136.8" y1="585.6" x2="136.8" y2="588.8" stroke="#bb2b4c" stroke-width="1"/>
<line x1="168.6" y1="599.2" x2="168.6" y2="602.4" stroke="#bb2b4c" stroke-width="1"/>
<line x1="183.5" y1="599.2" x2="183.5" y2="602.4" stroke="#bb2b4c" stroke-width="1"/>
<path d="M47.3 517.4H48.6V518H52V520H55V522.5H57V523.5H60V525H62V526.5H65V527.5H66V529H67V531H68V533H74V534H76V535H78V537H80V538H88V538.8H90V539.5H92V541H94V542H96V543H102V543.5H105V546H107V547H110V548.5H112V549H120V549.5H122V550.5H125V551.3H128V552H129V553.5H130V555.5H131.5V557H134V557.8H137V559H138V560.5H142V561H144V562H145V563.5H147V566H149V569H150V570.1H153V571.5H158V572H159V573.5H163V574H164.5V575H182H182.5V577H183.5V579H184.5V580.5H188H189V585H190V587.5H190.5V595.2H207" fill="none" stroke="#244766" stroke-width="1.05" stroke-linejoin="miter" stroke-linecap="square"/>
<line x1="58" y1="521.9" x2="58" y2="525.1" stroke="#244766" stroke-width="1"/>
<line x1="70" y1="532.4" x2="70" y2="535.6" stroke="#244766" stroke-width="1"/>
<line x1="84" y1="537.2" x2="84" y2="540.4" stroke="#244766" stroke-width="1"/>
<line x1="95" y1="540.4" x2="95" y2="543.6" stroke="#244766" stroke-width="1"/>
<line x1="99" y1="541.9" x2="99" y2="545.1" stroke="#244766" stroke-width="1"/>
<line x1="115" y1="547.9" x2="115" y2="551.1" stroke="#244766" stroke-width="1"/>
<line x1="118" y1="547.9" x2="118" y2="551.1" stroke="#244766" stroke-width="1"/>
<line x1="135" y1="556.2" x2="135" y2="559.4" stroke="#244766" stroke-width="1"/>
<line x1="140" y1="558.9" x2="140" y2="562.1" stroke="#244766" stroke-width="1"/>
<line x1="150" y1="568.5" x2="150" y2="571.7" stroke="#244766" stroke-width="1"/>
<line x1="156" y1="570.4" x2="156" y2="573.6" stroke="#244766" stroke-width="1"/>
<line x1="161" y1="572.4" x2="161" y2="575.6" stroke="#244766" stroke-width="1"/>
<line x1="165" y1="573.4" x2="165" y2="576.6" stroke="#244766" stroke-width="1"/>
<line x1="168" y1="573.4" x2="168" y2="576.6" stroke="#244766" stroke-width="1"/>
<line x1="174" y1="573.4" x2="174" y2="576.6" stroke="#244766" stroke-width="1"/>
<line x1="186" y1="578.9" x2="186" y2="582.1" stroke="#244766" stroke-width="1"/>
<line x1="195.5" y1="593.6" x2="195.5" y2="596.8" stroke="#244766" stroke-width="1"/>
<line x1="201" y1="593.6" x2="201" y2="596.8" stroke="#244766" stroke-width="1"/>
<line x1="207" y1="593.6" x2="207" y2="596.8" stroke="#244766" stroke-width="1"/>
<path d="M308.6 517.4H309V525.4H310.9V540.8H312.8V548.5H315.4V556.8H324.4V565.1H325.6V572.8H327.2V588.2H351.9V596.2H369.2V610.6H387.9V619.3H444.1" fill="none" stroke="#bb2b4c" stroke-width="1.05" stroke-linejoin="miter" stroke-linecap="square"/>
<line x1="419.6" y1="617.7" x2="419.6" y2="620.9" stroke="#bb2b4c" stroke-width="1"/>
<line x1="444.1" y1="617.7" x2="444.1" y2="620.9" stroke="#bb2b4c" stroke-width="1"/>
<path d="M308.6 517.4H309.2V517.6H312V518.5H315V519.5H316.5V521H318V522.5H320V524H323V526H325V528H326.5V530H328V532H330V533H334H336V534.5H338V536H340V538H342V539H347V539.5H350V540.5H352V541.5H354V543H364V544.5H368V546H378V547H382V548H387V549.5H390V551.5H395V554H400V556.5H404V560H407V563.5H410V568H412V569.5H418V570.5H421V572H425V573H432V574H442H443.5V576H445V579H448V580H450V584H451V588H452V593.5H467" fill="none" stroke="#244766" stroke-width="1.05" stroke-linejoin="miter" stroke-linecap="square"/>
<line x1="313" y1="516.9" x2="313" y2="520.1" stroke="#244766" stroke-width="1"/>
<line x1="331" y1="531.4" x2="331" y2="534.6" stroke="#244766" stroke-width="1"/>
<line x1="336" y1="532.9" x2="336" y2="536.1" stroke="#244766" stroke-width="1"/>
<line x1="345" y1="537.9" x2="345" y2="541.1" stroke="#244766" stroke-width="1"/>
<line x1="352" y1="539.9" x2="352" y2="543.1" stroke="#244766" stroke-width="1"/>
<line x1="358" y1="541.4" x2="358" y2="544.6" stroke="#244766" stroke-width="1"/>
<line x1="372" y1="544.4" x2="372" y2="547.6" stroke="#244766" stroke-width="1"/>
<line x1="380" y1="545.4" x2="380" y2="548.6" stroke="#244766" stroke-width="1"/>
<line x1="385" y1="546.4" x2="385" y2="549.6" stroke="#244766" stroke-width="1"/>
<line x1="398" y1="553.4" x2="398" y2="556.6" stroke="#244766" stroke-width="1"/>
<line x1="412" y1="567.9" x2="412" y2="571.1" stroke="#244766" stroke-width="1"/>
<line x1="416" y1="568.9" x2="416" y2="572.1" stroke="#244766" stroke-width="1"/>
<line x1="427.5" y1="572.4" x2="427.5" y2="575.6" stroke="#244766" stroke-width="1"/>
<line x1="430" y1="572.4" x2="430" y2="575.6" stroke="#244766" stroke-width="1"/>
<line x1="435" y1="572.4" x2="435" y2="575.6" stroke="#244766" stroke-width="1"/>
<line x1="438" y1="572.4" x2="438" y2="575.6" stroke="#244766" stroke-width="1"/>
<line x1="446" y1="577.4" x2="446" y2="580.6" stroke="#244766" stroke-width="1"/>
<line x1="455" y1="591.9" x2="455" y2="595.1" stroke="#244766" stroke-width="1"/>
<line x1="461" y1="591.9" x2="461" y2="595.1" stroke="#244766" stroke-width="1"/>
<line x1="467" y1="591.9" x2="467" y2="595.1" stroke="#244766" stroke-width="1"/>
<circle cx="315.3" cy="368.4" r="1.35" fill="#bb2b4c"/>
<circle cx="183.5" cy="600.8" r="1.35" fill="#bb2b4c"/>
<circle cx="74.8" cy="47.3" r="1.35" fill="#bb2b4c"/>
<rect x="0" y="0" width="520" height="1" fill="#595959"/>
<rect x="0" y="702" width="520" height="1" fill="#525757"/>
<rect x="0" y="0" width="1" height="703" fill="#595959"/>
<rect x="519" y="0" width="1" height="703" fill="#575757"/>
</svg>
</body></html>
